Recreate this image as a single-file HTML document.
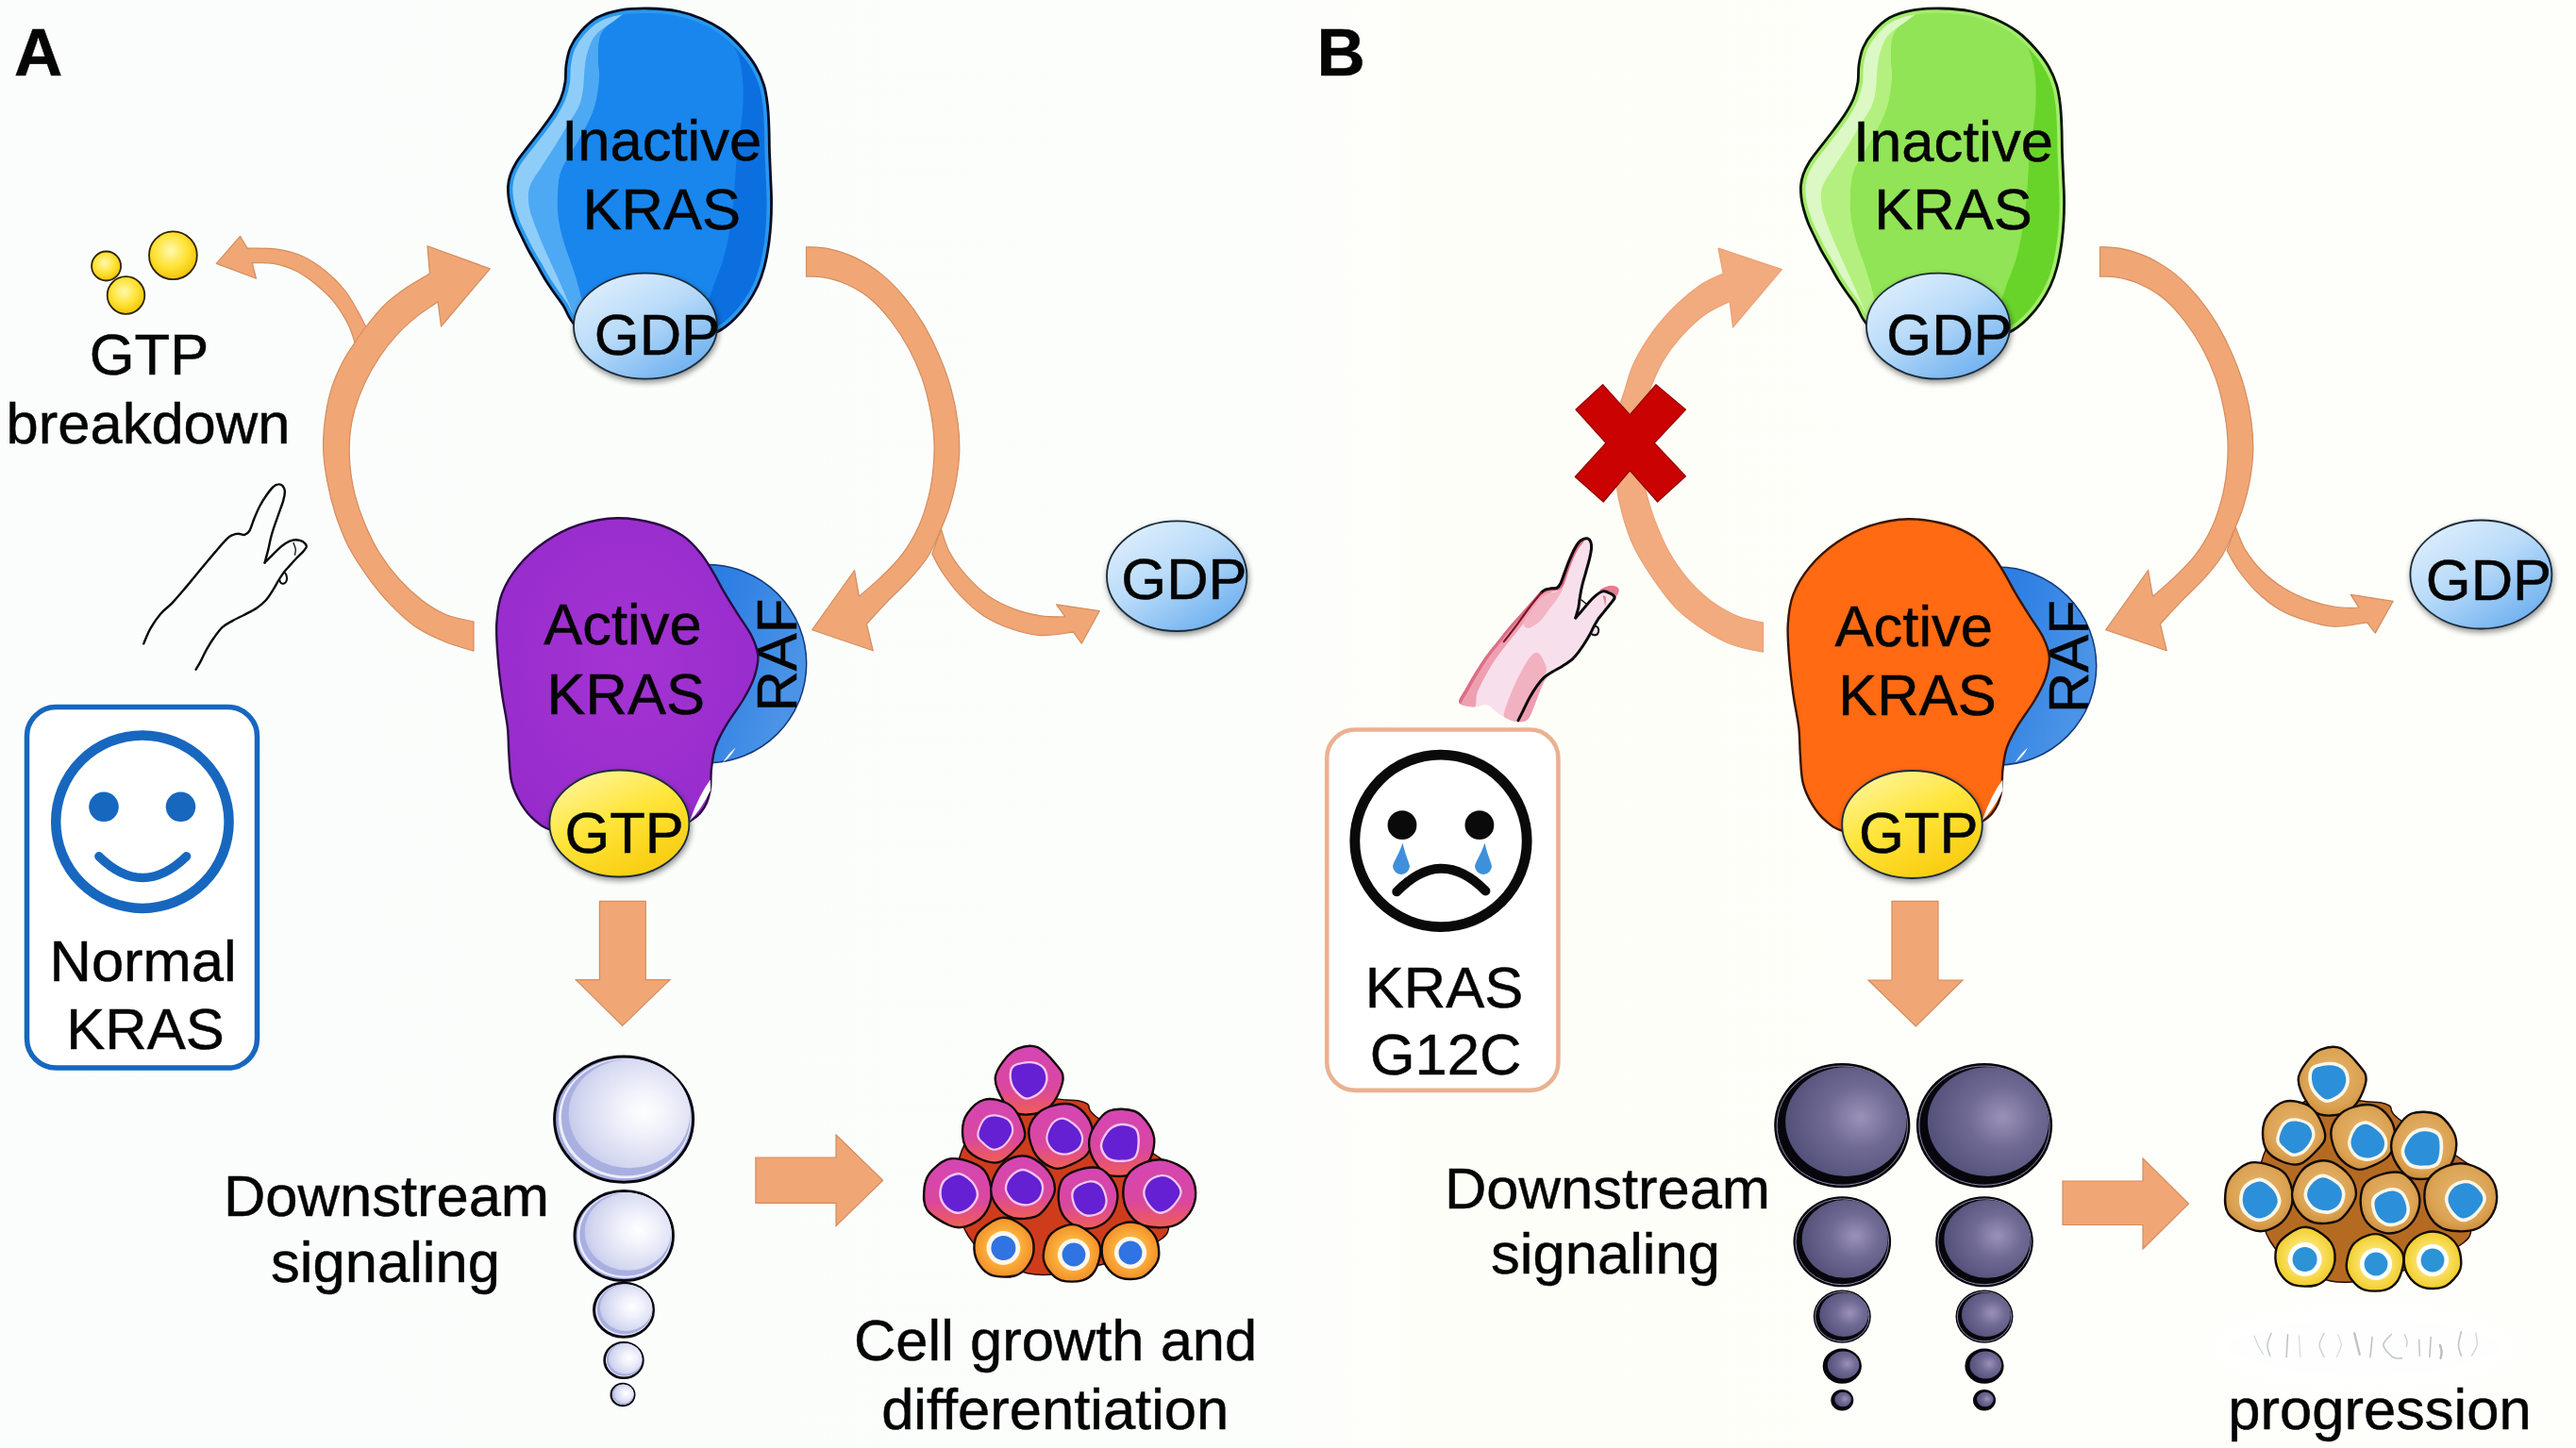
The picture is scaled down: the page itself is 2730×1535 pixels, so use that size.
<!DOCTYPE html>
<html lang="en"><head><meta charset="utf-8"><title>KRAS signaling: normal vs G12C</title>
<style>html,body{margin:0;padding:0;background:#fdfefb;}body{width:2730px;height:1535px;overflow:hidden;font-family:"Liberation Sans",Arial,sans-serif;}svg{display:block;}</style>
</head><body>
<svg width="2730" height="1535" viewBox="0 0 2730 1535" font-family="'Liberation Sans', Arial, sans-serif" fill="#050505">
<defs>
<linearGradient id="bg" x1="0" x2="1" y1="0" y2="0"><stop offset="0" stop-color="#fbfdfc"/><stop offset="0.48" stop-color="#fcfefc"/><stop offset="0.55" stop-color="#fefef9"/><stop offset="1" stop-color="#fefefa"/></linearGradient>
<radialGradient id="gYellow" cx="0.45" cy="0.4" r="0.62"><stop offset="0" stop-color="#fff8b0"/><stop offset="0.55" stop-color="#ffe338"/><stop offset="1" stop-color="#f2c200"/></radialGradient>
<linearGradient id="gGTP" x1="0.2" x2="0.8" y1="0" y2="1"><stop offset="0" stop-color="#fff59a"/><stop offset="0.45" stop-color="#ffe53a"/><stop offset="1" stop-color="#f7c90a"/></linearGradient>
<linearGradient id="gGDP" x1="0.1" x2="0.9" y1="0" y2="1"><stop offset="0" stop-color="#e2f1fd"/><stop offset="0.45" stop-color="#b9dbf9"/><stop offset="1" stop-color="#62a9ee"/></linearGradient>
<radialGradient id="gPurple" cx="0.5" cy="0.45" r="0.6"><stop offset="0" stop-color="#a533d3"/><stop offset="1" stop-color="#962ccb"/></radialGradient>
<linearGradient id="gRAF" x1="0" x2="1" y1="0" y2="0.3"><stop offset="0" stop-color="#1f6fdc"/><stop offset="0.6" stop-color="#2f80e4"/><stop offset="1" stop-color="#4a93e6"/></linearGradient>
<radialGradient id="gSphL" cx="0.62" cy="0.48" r="0.66"><stop offset="0" stop-color="#ffffff"/><stop offset="0.3" stop-color="#f1f2fb"/><stop offset="0.75" stop-color="#d6daf1"/><stop offset="1" stop-color="#c2c7e9"/></radialGradient>
<radialGradient id="gSphD" cx="0.62" cy="0.46" r="0.64"><stop offset="0" stop-color="#9b91b8"/><stop offset="0.45" stop-color="#6f6a93"/><stop offset="1" stop-color="#514f78"/></radialGradient>
<linearGradient id="gPink" x1="0" x2="0" y1="0" y2="1"><stop offset="0" stop-color="#d446b4"/><stop offset="0.62" stop-color="#da479f"/><stop offset="0.85" stop-color="#e8556f"/><stop offset="1" stop-color="#ef6058"/></linearGradient>
<radialGradient id="gOrangeC" cx="0.5" cy="0.5" r="0.5"><stop offset="0.55" stop-color="#fbb13c"/><stop offset="1" stop-color="#f38f2a"/></radialGradient>
<radialGradient id="gTan" cx="0.5" cy="0.45" r="0.6"><stop offset="0" stop-color="#e6b873"/><stop offset="0.7" stop-color="#dba252"/><stop offset="1" stop-color="#c98a35"/></radialGradient>
<radialGradient id="gYelC" cx="0.5" cy="0.5" r="0.5"><stop offset="0.5" stop-color="#fbe36a"/><stop offset="1" stop-color="#f1cd2c"/></radialGradient>
<filter id="sh" x="-20%" y="-20%" width="140%" height="150%"><feGaussianBlur in="SourceAlpha" stdDeviation="3"/><feOffset dx="1" dy="3"/><feComponentTransfer><feFuncA type="linear" slope="0.45"/></feComponentTransfer><feMerge><feMergeNode/><feMergeNode in="SourceGraphic"/></feMerge></filter>
<filter id="blur6"><feGaussianBlur stdDeviation="8"/></filter>
</defs>
<rect x="0" y="0" width="2730" height="1535" fill="url(#bg)"/>
<text x="15.0" y="80.3" font-size="71" text-anchor="start" font-weight="bold" stroke="#050505" stroke-width="0.5" >A</text>
<path d="M388.1,347.0 C386.7,344.3 383.2,337.0 379.5,330.5 C375.8,324.0 371.4,315.2 365.7,308.0 C359.9,300.8 352.5,293.4 345.0,287.3 C337.5,281.3 329.4,275.6 320.8,271.8 C312.2,267.9 303.0,265.6 293.2,264.2 C283.4,262.7 267.3,263.3 262.1,263.1 L254.5,250.4 L229.3,279.4 L271.5,295.3 L267.3,278.7 C271.1,278.8 282.0,277.9 289.7,279.4 C297.5,280.8 306.1,283.4 313.9,287.3 C321.7,291.2 329.4,297.1 336.3,302.8 C343.3,308.6 349.9,314.9 355.3,321.8 C360.8,328.7 365.6,337.1 369.1,344.3 C372.7,351.5 375.5,361.5 376.7,365.0Z" fill="#f1a676" stroke="#d38e5e" stroke-width="1.2" stroke-linejoin="round"/>
<path d="M502.0,690.1 C497.1,688.6 482.8,685.0 472.7,680.8 C462.6,676.7 451.4,671.9 441.6,665.3 C431.8,658.7 422.6,650.0 414.0,641.1 C405.4,632.2 397.3,622.1 389.9,611.8 C382.4,601.4 374.9,590.2 369.1,579.0 C363.4,567.8 359.1,556.0 355.3,544.5 C351.6,533.0 348.8,521.5 346.7,510.0 C344.6,498.4 342.8,486.9 342.6,475.4 C342.3,463.9 343.4,451.8 345.0,440.9 C346.5,430.0 348.7,419.6 351.9,409.9 C355.0,400.1 359.9,390.0 364.0,382.2 C368.0,374.5 372.0,369.3 376.0,363.3 C380.1,357.2 382.9,352.6 388.1,346.0 C393.3,339.4 399.9,330.5 407.1,323.6 C414.3,316.7 423.2,310.2 431.3,304.6 C439.3,299.0 451.4,292.5 455.4,290.1 L453.0,260.7 L519.3,284.9 L467.5,346.0 L464.1,320.1 C460.3,322.7 448.8,329.9 441.6,335.6 C434.4,341.4 427.5,347.4 420.9,354.6 C414.3,361.8 407.7,370.2 401.9,378.8 C396.2,387.4 390.7,397.2 386.4,406.4 C382.1,415.6 378.6,424.8 376.0,434.0 C373.5,443.2 371.7,451.8 370.9,461.6 C370.0,471.4 370.0,482.3 370.9,492.7 C371.7,503.1 373.5,513.4 376.0,523.8 C378.6,534.1 382.1,544.5 386.4,554.8 C390.7,565.2 395.9,576.1 401.9,585.9 C408.0,595.7 415.2,605.2 422.6,613.5 C430.1,621.9 438.5,629.6 446.8,635.9 C455.1,642.3 463.5,647.6 472.7,651.5 C481.9,655.3 497.1,657.8 502.0,659.1Z" fill="#f1a676" stroke="#d38e5e" stroke-width="1.2" stroke-linejoin="round"/>
<path d="M997.4,560.7 C998.9,564.8 1002.0,577.4 1006.4,585.5 C1010.8,593.7 1016.8,601.9 1023.7,609.7 C1030.6,617.5 1039.2,626.1 1047.8,632.1 C1056.5,638.2 1066.2,642.5 1075.4,645.9 C1084.6,649.4 1094.1,651.5 1103.1,652.9 C1112.0,654.2 1124.6,653.7 1128.9,653.9 L1119.6,640.8 L1165.2,647.7 L1146.2,682.2 L1137.6,670.1 C1131.8,670.7 1114.0,674.1 1103.1,673.6 C1092.1,673.0 1082.1,670.1 1072.0,666.7 C1061.9,663.2 1051.6,658.6 1042.6,652.9 C1033.7,647.1 1025.7,639.6 1018.5,632.1 C1011.3,624.7 1004.6,615.5 999.5,608.0 C994.4,600.5 989.7,590.7 987.8,587.3Z" fill="#f1a676" stroke="#d38e5e" stroke-width="1.2" stroke-linejoin="round"/>
<path d="M854.5,261.8 C858.5,262.1 870.1,261.9 878.7,263.8 C887.3,265.7 897.1,268.7 906.3,273.1 C915.5,277.6 925.3,283.5 933.9,290.4 C942.5,297.3 950.6,305.7 958.1,314.6 C965.6,323.5 972.5,333.3 978.8,343.9 C985.1,354.6 991.2,366.9 996.0,378.4 C1000.9,389.9 1005.0,401.4 1008.1,412.9 C1011.3,424.5 1013.6,436.5 1015.0,447.5 C1016.5,458.4 1017.0,468.2 1016.8,478.5 C1016.5,488.9 1015.0,499.8 1013.3,509.6 C1011.6,519.4 1009.2,528.5 1006.4,537.2 C1003.6,546.0 1000.5,553.4 996.7,562.1 C993.0,570.7 989.3,580.5 984.0,589.0 C978.7,597.5 972.2,605.1 965.0,613.2 C957.8,621.2 948.6,629.3 940.8,637.3 C933.0,645.4 922.1,657.5 918.4,661.5 L925.3,689.8 L860.7,667.7 L905.6,604.5 L910.4,632.1 C914.4,628.7 926.3,618.9 933.9,611.4 C941.6,604.0 949.7,596.2 956.3,587.3 C963.0,578.3 969.0,568.0 973.6,557.9 C978.2,547.9 981.4,537.2 984.0,526.9 C986.6,516.5 988.2,506.1 989.1,495.8 C990.1,485.4 990.4,475.1 989.8,464.7 C989.3,454.4 987.8,444.3 985.7,433.7 C983.6,423.0 980.8,411.5 977.1,400.9 C973.3,390.2 968.7,379.9 963.3,369.8 C957.8,359.7 951.2,349.4 944.3,340.5 C937.4,331.5 929.9,322.9 921.8,316.3 C913.8,309.7 904.3,304.5 895.9,300.8 C887.6,297.0 878.7,295.1 871.8,293.9 C864.9,292.6 857.4,293.3 854.5,293.2Z" fill="#f1a676" stroke="#d38e5e" stroke-width="1.2" stroke-linejoin="round"/>
<clipPath id="clipIn0"><path d="M688.0,9.0 C698.3,9.2 709.7,10.2 719.0,12.0 C728.3,13.8 735.8,16.4 744.0,20.0 C752.2,23.6 760.9,28.3 768.0,33.5 C775.1,38.7 781.0,44.8 786.5,51.0 C792.0,57.2 797.2,64.0 801.0,70.5 C804.8,77.0 807.4,83.1 809.5,90.0 C811.6,96.9 812.6,104.2 813.5,112.0 C814.4,119.8 814.7,128.7 815.0,137.0 C815.3,145.3 815.2,154.0 815.5,162.0 C815.8,170.0 816.2,177.0 816.5,185.0 C816.8,193.0 817.4,201.7 817.5,210.0 C817.6,218.3 817.5,226.7 817.0,235.0 C816.5,243.3 815.7,252.0 814.5,260.0 C813.3,268.0 811.9,275.8 810.0,283.0 C808.1,290.2 806.0,296.5 803.0,303.0 C800.0,309.5 796.0,316.2 792.0,322.0 C788.0,327.8 783.5,333.0 779.0,337.5 C774.5,342.0 770.7,345.6 765.0,349.0 C759.3,352.4 755.8,355.3 745.0,358.0 C734.2,360.7 717.5,364.7 700.0,365.0 C682.5,365.3 655.0,363.3 640.0,360.0 C625.0,356.7 617.2,351.0 610.0,345.0 C602.8,339.0 600.8,329.8 597.0,324.0 C593.2,318.2 590.2,314.6 587.0,310.0 C583.8,305.4 580.9,301.2 578.0,296.5 C575.1,291.8 572.3,286.4 569.5,281.5 C566.7,276.6 563.7,271.9 561.0,267.0 C558.3,262.1 555.9,257.0 553.5,252.0 C551.1,247.0 548.5,242.0 546.5,237.0 C544.5,232.0 542.8,226.6 541.5,222.0 C540.2,217.4 539.5,213.7 539.0,209.5 C538.5,205.3 538.2,201.1 538.5,197.0 C538.8,192.9 539.6,189.1 541.0,185.0 C542.4,180.9 544.5,176.7 547.0,172.5 C549.5,168.3 551.6,165.8 556.0,160.0 C560.4,154.2 568.5,144.2 573.5,137.5 C578.5,130.8 582.5,125.6 586.0,120.0 C589.5,114.4 592.3,109.5 594.5,104.0 C596.7,98.5 598.1,92.8 599.0,87.0 C599.9,81.2 599.1,75.1 600.0,69.0 C600.9,62.9 601.9,56.4 604.5,50.5 C607.1,44.6 610.8,38.8 615.5,33.5 C620.2,28.2 625.6,22.6 632.5,18.8 C639.4,15.0 647.8,12.4 657.0,10.8 C666.2,9.2 677.7,8.8 688.0,9.0Z"/></clipPath>
<g clip-path="url(#clipIn0)">
<path d="M688.0,9.0 C698.3,9.2 709.7,10.2 719.0,12.0 C728.3,13.8 735.8,16.4 744.0,20.0 C752.2,23.6 760.9,28.3 768.0,33.5 C775.1,38.7 781.0,44.8 786.5,51.0 C792.0,57.2 797.2,64.0 801.0,70.5 C804.8,77.0 807.4,83.1 809.5,90.0 C811.6,96.9 812.6,104.2 813.5,112.0 C814.4,119.8 814.7,128.7 815.0,137.0 C815.3,145.3 815.2,154.0 815.5,162.0 C815.8,170.0 816.2,177.0 816.5,185.0 C816.8,193.0 817.4,201.7 817.5,210.0 C817.6,218.3 817.5,226.7 817.0,235.0 C816.5,243.3 815.7,252.0 814.5,260.0 C813.3,268.0 811.9,275.8 810.0,283.0 C808.1,290.2 806.0,296.5 803.0,303.0 C800.0,309.5 796.0,316.2 792.0,322.0 C788.0,327.8 783.5,333.0 779.0,337.5 C774.5,342.0 770.7,345.6 765.0,349.0 C759.3,352.4 755.8,355.3 745.0,358.0 C734.2,360.7 717.5,364.7 700.0,365.0 C682.5,365.3 655.0,363.3 640.0,360.0 C625.0,356.7 617.2,351.0 610.0,345.0 C602.8,339.0 600.8,329.8 597.0,324.0 C593.2,318.2 590.2,314.6 587.0,310.0 C583.8,305.4 580.9,301.2 578.0,296.5 C575.1,291.8 572.3,286.4 569.5,281.5 C566.7,276.6 563.7,271.9 561.0,267.0 C558.3,262.1 555.9,257.0 553.5,252.0 C551.1,247.0 548.5,242.0 546.5,237.0 C544.5,232.0 542.8,226.6 541.5,222.0 C540.2,217.4 539.5,213.7 539.0,209.5 C538.5,205.3 538.2,201.1 538.5,197.0 C538.8,192.9 539.6,189.1 541.0,185.0 C542.4,180.9 544.5,176.7 547.0,172.5 C549.5,168.3 551.6,165.8 556.0,160.0 C560.4,154.2 568.5,144.2 573.5,137.5 C578.5,130.8 582.5,125.6 586.0,120.0 C589.5,114.4 592.3,109.5 594.5,104.0 C596.7,98.5 598.1,92.8 599.0,87.0 C599.9,81.2 599.1,75.1 600.0,69.0 C600.9,62.9 601.9,56.4 604.5,50.5 C607.1,44.6 610.8,38.8 615.5,33.5 C620.2,28.2 625.6,22.6 632.5,18.8 C639.4,15.0 647.8,12.4 657.0,10.8 C666.2,9.2 677.7,8.8 688.0,9.0Z" fill="#1886ec"/>
<path d="M667.0,12.0 C664.6,13.1 657.6,14.4 652.5,18.6 C647.4,22.8 639.5,30.0 636.4,37.3 C633.3,44.6 634.1,55.0 633.9,62.2 C633.7,69.5 635.4,73.5 635.1,80.8 C634.8,88.0 633.4,98.5 631.9,105.7 C630.3,113.0 629.0,117.0 625.8,124.3 C622.7,131.5 616.9,142.1 612.9,149.2 C609.0,156.3 605.2,161.1 602.0,167.0 C598.7,172.9 595.2,177.8 593.4,184.9 C591.5,192.0 591.1,201.4 590.9,209.7 C590.7,218.0 591.0,226.3 592.2,234.6 C593.5,242.9 595.9,251.2 598.4,259.5 C600.9,267.8 604.4,276.0 607.1,284.3 C609.8,292.6 612.4,300.9 614.5,309.2 C616.6,317.5 617.8,325.5 619.5,334.0 C621.2,342.5 624.1,355.7 625.0,360.0 L480.0,380.0 L480.0,0.0 Z" fill="#4da9f3"/>
<path d="M663.0,13.0 C661.2,14.3 657.6,17.1 652.3,21.1 C647.0,25.2 636.2,31.5 631.2,37.3 C626.2,43.1 624.5,49.7 622.5,55.9 C620.5,62.1 620.1,68.4 619.4,74.6 C618.7,80.8 619.0,87.0 618.1,93.2 C617.2,99.4 616.4,105.7 613.8,111.9 C611.2,118.1 607.0,123.2 602.6,130.5 C598.2,137.8 592.5,147.7 587.7,155.4 C582.9,163.1 578.4,169.5 574.0,176.5 C569.6,183.5 563.9,190.7 561.6,197.3 C559.3,203.9 559.7,209.8 560.3,216.0 C560.9,222.2 562.8,227.3 565.3,234.6 C567.8,241.8 571.7,251.2 575.2,259.5 C578.7,267.8 582.7,276.0 586.4,284.3 C590.1,292.6 594.1,300.9 597.6,309.2 C601.1,317.5 604.9,325.5 607.6,334.0 C610.3,342.5 612.9,355.7 614.0,360.0 L480.0,380.0 L480.0,0.0 Z" fill="#8fcdf9"/>
<path d="M760.0,25.0 C762.5,28.1 770.9,37.3 774.8,43.5 C778.7,49.7 781.4,55.0 783.5,62.2 C785.6,69.5 786.7,78.7 787.3,87.0 C787.9,95.3 787.7,103.6 787.3,111.9 C786.9,120.2 785.8,128.4 784.8,136.7 C783.8,145.0 782.0,151.5 781.0,161.6 C780.0,171.7 779.6,185.1 778.6,197.3 C777.6,209.5 776.7,222.2 774.8,234.6 C772.9,247.0 770.5,260.5 767.4,271.9 C764.3,283.3 759.1,294.7 756.2,303.0 C753.3,311.3 752.7,313.8 750.0,321.6 C747.3,329.4 741.7,345.3 740.0,350.0 L880.0,380.0 L880.0,0.0 Z" fill="#0c6fe0"/>
<path d="M688.0,9.0 C698.3,9.2 709.7,10.2 719.0,12.0 C728.3,13.8 735.8,16.4 744.0,20.0 C752.2,23.6 760.9,28.3 768.0,33.5 C775.1,38.7 781.0,44.8 786.5,51.0 C792.0,57.2 797.2,64.0 801.0,70.5 C804.8,77.0 807.4,83.1 809.5,90.0 C811.6,96.9 812.6,104.2 813.5,112.0 C814.4,119.8 814.7,128.7 815.0,137.0 C815.3,145.3 815.2,154.0 815.5,162.0 C815.8,170.0 816.2,177.0 816.5,185.0 C816.8,193.0 817.4,201.7 817.5,210.0 C817.6,218.3 817.5,226.7 817.0,235.0 C816.5,243.3 815.7,252.0 814.5,260.0 C813.3,268.0 811.9,275.8 810.0,283.0 C808.1,290.2 806.0,296.5 803.0,303.0 C800.0,309.5 796.0,316.2 792.0,322.0 C788.0,327.8 783.5,333.0 779.0,337.5 C774.5,342.0 770.7,345.6 765.0,349.0 C759.3,352.4 755.8,355.3 745.0,358.0 C734.2,360.7 717.5,364.7 700.0,365.0 C682.5,365.3 655.0,363.3 640.0,360.0 C625.0,356.7 617.2,351.0 610.0,345.0 C602.8,339.0 600.8,329.8 597.0,324.0 C593.2,318.2 590.2,314.6 587.0,310.0 C583.8,305.4 580.9,301.2 578.0,296.5 C575.1,291.8 572.3,286.4 569.5,281.5 C566.7,276.6 563.7,271.9 561.0,267.0 C558.3,262.1 555.9,257.0 553.5,252.0 C551.1,247.0 548.5,242.0 546.5,237.0 C544.5,232.0 542.8,226.6 541.5,222.0 C540.2,217.4 539.5,213.7 539.0,209.5 C538.5,205.3 538.2,201.1 538.5,197.0 C538.8,192.9 539.6,189.1 541.0,185.0 C542.4,180.9 544.5,176.7 547.0,172.5 C549.5,168.3 551.6,165.8 556.0,160.0 C560.4,154.2 568.5,144.2 573.5,137.5 C578.5,130.8 582.5,125.6 586.0,120.0 C589.5,114.4 592.3,109.5 594.5,104.0 C596.7,98.5 598.1,92.8 599.0,87.0 C599.9,81.2 599.1,75.1 600.0,69.0 C600.9,62.9 601.9,56.4 604.5,50.5 C607.1,44.6 610.8,38.8 615.5,33.5 C620.2,28.2 625.6,22.6 632.5,18.8 C639.4,15.0 647.8,12.4 657.0,10.8 C666.2,9.2 677.7,8.8 688.0,9.0Z" fill="none" stroke="#2a98ee" stroke-width="10"/>
</g>
<path d="M688.0,9.0 C698.3,9.2 709.7,10.2 719.0,12.0 C728.3,13.8 735.8,16.4 744.0,20.0 C752.2,23.6 760.9,28.3 768.0,33.5 C775.1,38.7 781.0,44.8 786.5,51.0 C792.0,57.2 797.2,64.0 801.0,70.5 C804.8,77.0 807.4,83.1 809.5,90.0 C811.6,96.9 812.6,104.2 813.5,112.0 C814.4,119.8 814.7,128.7 815.0,137.0 C815.3,145.3 815.2,154.0 815.5,162.0 C815.8,170.0 816.2,177.0 816.5,185.0 C816.8,193.0 817.4,201.7 817.5,210.0 C817.6,218.3 817.5,226.7 817.0,235.0 C816.5,243.3 815.7,252.0 814.5,260.0 C813.3,268.0 811.9,275.8 810.0,283.0 C808.1,290.2 806.0,296.5 803.0,303.0 C800.0,309.5 796.0,316.2 792.0,322.0 C788.0,327.8 783.5,333.0 779.0,337.5 C774.5,342.0 770.7,345.6 765.0,349.0 C759.3,352.4 755.8,355.3 745.0,358.0 C734.2,360.7 717.5,364.7 700.0,365.0 C682.5,365.3 655.0,363.3 640.0,360.0 C625.0,356.7 617.2,351.0 610.0,345.0 C602.8,339.0 600.8,329.8 597.0,324.0 C593.2,318.2 590.2,314.6 587.0,310.0 C583.8,305.4 580.9,301.2 578.0,296.5 C575.1,291.8 572.3,286.4 569.5,281.5 C566.7,276.6 563.7,271.9 561.0,267.0 C558.3,262.1 555.9,257.0 553.5,252.0 C551.1,247.0 548.5,242.0 546.5,237.0 C544.5,232.0 542.8,226.6 541.5,222.0 C540.2,217.4 539.5,213.7 539.0,209.5 C538.5,205.3 538.2,201.1 538.5,197.0 C538.8,192.9 539.6,189.1 541.0,185.0 C542.4,180.9 544.5,176.7 547.0,172.5 C549.5,168.3 551.6,165.8 556.0,160.0 C560.4,154.2 568.5,144.2 573.5,137.5 C578.5,130.8 582.5,125.6 586.0,120.0 C589.5,114.4 592.3,109.5 594.5,104.0 C596.7,98.5 598.1,92.8 599.0,87.0 C599.9,81.2 599.1,75.1 600.0,69.0 C600.9,62.9 601.9,56.4 604.5,50.5 C607.1,44.6 610.8,38.8 615.5,33.5 C620.2,28.2 625.6,22.6 632.5,18.8 C639.4,15.0 647.8,12.4 657.0,10.8 C666.2,9.2 677.7,8.8 688.0,9.0Z" fill="none" stroke="#030d22" stroke-width="2.8"/>
<ellipse cx="684.0" cy="345.7" rx="76.0" ry="56.0" fill="url(#gGDP)" stroke="#1c2a3a" stroke-width="1.8" filter="url(#sh)"/>
<text x="696.5" y="376.0" font-size="61.5" text-anchor="middle" font-weight="normal" stroke="#050505" stroke-width="0.5" >GDP</text>
<text x="701.2" y="169.7" font-size="61.5" text-anchor="middle" font-weight="normal" stroke="#050505" stroke-width="0.5" >Inactive</text>
<text x="701.2" y="242.7" font-size="61.5" text-anchor="middle" font-weight="normal" stroke="#050505" stroke-width="0.5" >KRAS</text>
<circle cx="112.6" cy="282.0" r="15.5" fill="url(#gYellow)" stroke="#2e2400" stroke-width="1.8"/>
<circle cx="183.4" cy="270.8" r="25.4" fill="url(#gYellow)" stroke="#2e2400" stroke-width="1.8"/>
<circle cx="133.5" cy="313.0" r="19.8" fill="url(#gYellow)" stroke="#2e2400" stroke-width="1.8"/>
<text x="158.0" y="397.0" font-size="61.5" text-anchor="middle" font-weight="normal" stroke="#050505" stroke-width="0.5" >GTP</text>
<text x="157.0" y="470.0" font-size="61.5" text-anchor="middle" font-weight="normal" stroke="#050505" stroke-width="0.5" >breakdown</text>
<path d="M152.2,682.4 C153.4,679.6 156.7,671.0 159.8,665.7 C162.8,660.3 166.6,654.9 170.4,650.5 C174.2,646.0 178.0,643.9 182.6,639.1 C187.1,634.2 192.7,627.5 197.8,621.6 C202.8,615.6 207.9,609.4 212.9,603.3 C218.0,597.3 223.6,590.4 228.1,585.1 C232.7,579.8 237.3,574.4 240.3,571.4 C243.3,568.4 244.4,568.1 246.4,567.2 C248.4,566.2 250.3,565.7 252.5,565.7 C254.6,565.6 257.3,567.4 259.3,566.9 C261.3,566.3 263.0,565.1 264.6,562.3 C266.3,559.5 267.4,554.5 269.2,550.2 C271.0,545.8 273.0,540.8 275.3,536.5 C277.5,532.2 280.5,527.7 282.9,524.3 C285.3,520.9 287.7,517.8 289.7,516.0 C291.7,514.1 293.4,513.5 295.0,513.4 C296.7,513.2 298.4,514.0 299.6,515.2 C300.7,516.4 301.7,518.0 301.9,520.5 C302.0,523.0 301.5,526.2 300.3,530.4 C299.2,534.6 296.8,540.5 295.0,545.6 C293.2,550.7 291.1,556.5 289.7,560.8 C288.3,565.1 287.5,567.9 286.7,571.4 C285.8,575.0 285.4,577.9 284.4,582.1 C283.4,586.2 281.2,594.1 280.6,596.5" fill="none" stroke="#0a0a0a" stroke-width="2.4" stroke-linecap="round" stroke-linejoin="round"/>
<path d="M280.6,596.5 C281.5,595.6 283.5,593.6 285.9,591.2 C288.3,588.8 292.2,584.6 295.0,582.1 C297.8,579.5 300.1,577.6 302.6,576.0 C305.1,574.4 307.7,573.2 310.2,572.6 C312.7,572.1 315.7,572.4 317.8,572.9 C320.0,573.5 322.0,574.8 323.1,576.0 C324.3,577.1 325.0,578.3 324.7,579.8 C324.3,581.3 322.8,583.0 320.9,585.1 C319.0,587.3 315.8,590.0 313.3,592.7 C310.7,595.4 307.7,598.8 305.7,601.1 C303.6,603.3 302.9,604.0 301.1,606.4 C299.3,608.8 297.0,612.2 295.0,615.5 C293.0,618.8 291.2,622.6 288.9,626.1 C286.7,629.7 284.1,633.7 281.3,636.8 C278.6,639.8 276.0,641.8 272.2,644.4 C268.4,646.9 262.8,649.7 258.5,652.0 C254.2,654.3 250.2,655.9 246.4,658.1 C242.6,660.2 239.0,661.9 235.7,664.9 C232.5,667.9 229.4,672.4 226.6,676.3 C223.8,680.2 221.3,684.4 219.0,688.4 C216.7,692.5 214.8,697.1 212.9,700.6 C211.0,704.2 208.5,708.2 207.6,709.7" fill="none" stroke="#0a0a0a" stroke-width="2.4" stroke-linecap="round" stroke-linejoin="round"/>
<path d="M301.4,606.7 C301.8,607.2 303.1,608.3 303.5,609.7 C303.9,611.1 304.2,613.7 303.8,615.2 C303.4,616.7 302.2,618.1 301.1,618.5 C300.0,619.0 298.3,618.5 297.4,617.8 C296.6,617.1 296.4,614.9 296.2,614.3" fill="none" stroke="#0a0a0a" stroke-width="2.0" stroke-linecap="round" stroke-linejoin="round"/>
<path d="M311.0,575.5 C311.4,576.6 313.0,580.0 313.3,582.1 C313.5,584.2 312.6,587.1 312.5,588.1" fill="none" stroke="#0a0a0a" stroke-width="1.3" stroke-linecap="round" stroke-linejoin="round"/>
<rect x="28.5" y="749.5" width="244" height="382.6" rx="31" fill="#ffffff" stroke="#1767bf" stroke-width="5.5"/>
<circle cx="150.9" cy="871.2" r="91.7" fill="none" stroke="#1767bf" stroke-width="10.5"/>
<circle cx="110" cy="855.3" r="15.8" fill="#1767bf"/><circle cx="191.5" cy="855.3" r="15.8" fill="#1767bf"/>
<path d="M104.9,907.8 Q151,953 197.6,907.8" fill="none" stroke="#1767bf" stroke-width="9.5" stroke-linecap="round"/>
<text x="151.6" y="1039.8" font-size="61.5" text-anchor="middle" font-weight="normal" stroke="#050505" stroke-width="0.5" >Normal</text>
<text x="154.0" y="1112.0" font-size="61.5" text-anchor="middle" font-weight="normal" stroke="#050505" stroke-width="0.5" >KRAS</text>
<clipPath id="clipRAF749"><circle cx="749.7" cy="703.6" r="105.0"/></clipPath>
<circle cx="749.7" cy="703.6" r="105.0" fill="url(#gRAF)" stroke="#123a7a" stroke-width="1.5"/>
<g clip-path="url(#clipRAF749)">
<text transform="translate(843.5,694.5) rotate(-90)" font-size="60" text-anchor="middle" stroke="#050505" stroke-width="0.5">RAF</text></g>
<path d="M653.9,549.2 C667.5,548.9 682.9,551.8 694.5,555.0 C706.1,558.1 715.6,562.8 723.6,568.0 C731.5,573.2 736.8,579.6 742.1,586.0 C747.5,592.4 751.6,599.7 755.7,606.6 C759.9,613.5 762.8,619.8 767.1,627.2 C771.4,634.5 776.6,642.8 781.6,650.7 C786.5,658.5 793.0,666.7 796.6,674.2 C800.3,681.7 802.9,688.2 803.3,695.6 C803.7,703.1 801.6,711.1 799.0,718.8 C796.3,726.6 792.2,733.8 787.4,742.0 C782.5,750.3 774.8,759.9 770.0,768.2 C765.1,776.4 761.0,783.6 758.4,791.4 C755.7,799.1 755.0,806.8 754.0,814.6 C753.0,822.3 753.8,831.0 752.6,837.8 C751.4,844.5 750.1,849.9 746.8,855.2 C743.4,860.5 741.0,864.4 732.3,869.7 C723.6,875.0 712.9,884.2 694.5,887.1 C676.2,890.0 640.4,888.3 622.0,887.1 C603.7,885.9 593.5,882.7 584.3,879.8 C575.1,876.9 572.2,874.3 566.9,869.7 C561.6,865.1 556.5,859.0 552.4,852.3 C548.3,845.5 544.4,837.8 542.3,829.1 C540.1,820.4 540.1,809.7 539.4,800.1 C538.6,790.4 539.1,781.7 537.9,771.1 C536.7,760.4 533.8,748.3 532.1,736.2 C530.4,724.2 528.7,711.1 527.8,698.5 C526.8,686.0 525.6,672.4 526.3,660.8 C527.0,649.2 528.2,639.1 532.1,628.9 C536.0,618.8 541.8,609.1 549.5,599.9 C557.2,590.7 567.9,581.1 578.5,573.8 C589.2,566.6 600.8,560.5 613.3,556.4 C625.9,552.3 640.4,549.4 653.9,549.2Z" fill="url(#gPurple)" stroke="#2a0a45" stroke-width="2.4"/>
<path d="M752.8,826.5 Q741.2,841.9 730.7,870.7 Q743.5,857.5 753.2,837.4 Z" fill="#fcfefc"/>
<path d="M766.0,808.5 Q771.0,800 779.5,792.5 Q775.0,802 766.0,808.5 Z" fill="#fcfefc"/>
<text x="660.0" y="683.0" font-size="61.5" text-anchor="middle" font-weight="normal" stroke="#050505" stroke-width="0.5" >Active</text>
<text x="663.2" y="756.7" font-size="61.5" text-anchor="middle" font-weight="normal" stroke="#050505" stroke-width="0.5" >KRAS</text>
<ellipse cx="656.4" cy="873.0" rx="74.0" ry="56.5" fill="url(#gGTP)" stroke="#1c2a3a" stroke-width="1.8" filter="url(#sh)"/>
<text x="661.7" y="904.0" font-size="61.5" text-anchor="middle" font-weight="normal" stroke="#050505" stroke-width="0.5" >GTP</text>
<path d="M635.4,955.4 H684.3 V1038.6 H710.0 L659.6,1087.5 L610.3,1038.6 H635.4 Z" fill="#f1a676" stroke="#d38e5e" stroke-width="1.2"/>
<path d="M800.9,1227.0 H886.0 V1203.0 L935.7,1251.3 L886.0,1299.6 V1275.3 H800.9 Z" fill="#f1a676" stroke="#d38e5e" stroke-width="1.2"/>
<ellipse cx="661.1" cy="1186.6" rx="73.5" ry="66.6" fill="#a3a9dc" stroke="#08080f" stroke-width="3"/>
<ellipse cx="662.2" cy="1185.6" rx="70.2" ry="63.6" fill="#eceefa"/>
<ellipse cx="663.3" cy="1184.6" rx="68.4" ry="61.9" fill="#a9afe0"/>
<ellipse cx="667.0" cy="1180.6" rx="64.3" ry="57.6" fill="url(#gSphL)"/>
<ellipse cx="661.2" cy="1310.0" rx="52.2" ry="47.5" fill="#a3a9dc" stroke="#08080f" stroke-width="3"/>
<ellipse cx="662.0" cy="1309.3" rx="49.9" ry="45.4" fill="#eceefa"/>
<ellipse cx="662.8" cy="1308.6" rx="48.5" ry="44.2" fill="#a9afe0"/>
<ellipse cx="665.4" cy="1305.7" rx="45.7" ry="41.1" fill="url(#gSphL)"/>
<ellipse cx="661.0" cy="1388.8" rx="31.5" ry="28.5" fill="#a3a9dc" stroke="#08080f" stroke-width="3"/>
<ellipse cx="661.5" cy="1388.4" rx="30.1" ry="27.2" fill="#eceefa"/>
<ellipse cx="661.9" cy="1387.9" rx="29.3" ry="26.5" fill="#a9afe0"/>
<ellipse cx="663.5" cy="1386.2" rx="27.6" ry="24.7" fill="url(#gSphL)"/>
<ellipse cx="661.0" cy="1442.0" rx="20.2" ry="18.6" fill="#a3a9dc" stroke="#08080f" stroke-width="3"/>
<ellipse cx="661.3" cy="1441.7" rx="19.3" ry="17.8" fill="#eceefa"/>
<ellipse cx="661.6" cy="1441.4" rx="18.8" ry="17.3" fill="#a9afe0"/>
<ellipse cx="662.6" cy="1440.3" rx="17.7" ry="16.1" fill="url(#gSphL)"/>
<ellipse cx="660.0" cy="1478.5" rx="12.0" ry="11.3" fill="#a3a9dc" stroke="#08080f" stroke-width="3"/>
<ellipse cx="660.2" cy="1478.3" rx="11.5" ry="10.8" fill="#eceefa"/>
<ellipse cx="660.4" cy="1478.2" rx="11.2" ry="10.5" fill="#a9afe0"/>
<ellipse cx="661.0" cy="1477.5" rx="10.5" ry="9.8" fill="url(#gSphL)"/>
<text x="409.5" y="1289.0" font-size="61.5" text-anchor="middle" font-weight="normal" stroke="#050505" stroke-width="0.5" >Downstream</text>
<text x="408.5" y="1359.0" font-size="61.5" text-anchor="middle" font-weight="normal" stroke="#050505" stroke-width="0.5" >signaling</text>
<path d="M1062.0,1166.0 C1081.0,1155.3 1115.0,1165.3 1130.0,1166.0 C1145.0,1166.7 1146.7,1167.0 1152.0,1170.0 C1157.3,1173.0 1149.0,1174.3 1162.0,1184.0 C1175.0,1193.7 1216.0,1218.3 1230.0,1228.0 C1244.0,1237.7 1244.3,1231.7 1246.0,1242.0 C1247.7,1252.3 1242.7,1278.0 1240.0,1290.0 C1237.3,1302.0 1241.7,1305.7 1230.0,1314.0 C1218.3,1322.3 1193.3,1334.0 1170.0,1340.0 C1146.7,1346.0 1114.0,1355.0 1090.0,1350.0 C1066.0,1345.0 1038.3,1330.0 1026.0,1310.0 C1013.7,1290.0 1010.0,1254.0 1016.0,1230.0 C1022.0,1206.0 1043.0,1176.7 1062.0,1166.0Z" fill="#cf3c1c" stroke="#2a0d06" stroke-width="1.5"/>
<path d="M1126.6,1143.3 C1126.3,1149.9 1121.3,1161.9 1117.0,1167.9 C1112.8,1174.0 1107.5,1177.6 1101.0,1179.7 C1094.4,1181.8 1083.8,1182.3 1077.7,1180.4 C1071.5,1178.5 1068.0,1174.3 1064.1,1168.2 C1060.3,1162.1 1054.8,1150.9 1054.7,1143.6 C1054.6,1136.4 1059.6,1129.9 1063.6,1124.6 C1067.5,1119.3 1072.4,1114.0 1078.4,1111.6 C1084.4,1109.2 1092.7,1107.4 1099.5,1110.2 C1106.3,1113.0 1114.6,1122.7 1119.1,1128.2 C1123.6,1133.8 1127.0,1136.7 1126.6,1143.3Z" fill="url(#gPink)" stroke="#120a08" stroke-width="2.4" stroke-linejoin="round"/>
<path d="M1110.6,1144.4 C1110.1,1149.0 1107.4,1154.8 1103.7,1158.3 C1099.9,1161.9 1092.7,1165.9 1087.9,1165.8 C1083.2,1165.6 1078.5,1160.9 1075.5,1157.3 C1072.4,1153.6 1070.2,1148.5 1069.8,1143.9 C1069.4,1139.2 1069.3,1132.6 1073.1,1129.5 C1076.9,1126.3 1087.3,1124.7 1092.9,1124.9 C1098.4,1125.1 1103.5,1127.5 1106.5,1130.8 C1109.4,1134.0 1111.0,1139.8 1110.6,1144.4Z" fill="#f3c6ee"/>
<path d="M1108.2,1144.4 C1107.7,1148.4 1105.4,1153.4 1102.0,1156.6 C1098.7,1159.8 1092.3,1163.5 1088.2,1163.4 C1084.0,1163.2 1079.9,1158.9 1077.2,1155.6 C1074.6,1152.4 1072.6,1148.0 1072.2,1143.9 C1071.8,1139.8 1071.5,1133.8 1074.9,1131.0 C1078.3,1128.3 1087.6,1127.1 1092.5,1127.3 C1097.5,1127.5 1102.0,1129.4 1104.6,1132.3 C1107.2,1135.1 1108.6,1140.3 1108.2,1144.4Z" fill="#6420d2"/>
<path d="M1086.2,1202.1 C1086.4,1208.1 1083.6,1210.4 1079.3,1215.3 C1074.9,1220.2 1066.6,1229.3 1060.2,1231.7 C1053.9,1234.0 1046.9,1231.8 1040.9,1229.5 C1035.0,1227.2 1028.1,1223.2 1024.6,1218.0 C1021.2,1212.8 1019.9,1204.8 1020.0,1198.5 C1020.1,1192.2 1021.5,1185.6 1025.3,1180.2 C1029.1,1174.7 1036.2,1167.7 1042.8,1165.8 C1049.4,1163.8 1059.2,1166.2 1065.0,1168.5 C1070.9,1170.9 1074.4,1174.1 1077.9,1179.7 C1081.5,1185.3 1086.0,1196.2 1086.2,1202.1Z" fill="url(#gPink)" stroke="#120a08" stroke-width="2.4" stroke-linejoin="round"/>
<path d="M1074.1,1200.1 C1073.4,1204.8 1068.8,1211.5 1065.2,1214.8 C1061.6,1218.1 1056.5,1220.2 1052.4,1219.8 C1048.3,1219.3 1043.5,1215.0 1040.7,1212.1 C1037.8,1209.3 1035.1,1207.0 1035.3,1202.7 C1035.5,1198.3 1038.8,1189.6 1042.0,1186.0 C1045.1,1182.5 1049.3,1181.2 1054.0,1181.3 C1058.7,1181.5 1066.6,1183.9 1070.0,1187.0 C1073.3,1190.2 1074.9,1195.5 1074.1,1200.1Z" fill="#f3c6ee"/>
<path d="M1071.9,1200.1 C1071.2,1204.2 1067.1,1210.1 1063.9,1213.0 C1060.6,1216.0 1056.2,1218.0 1052.6,1217.6 C1049.0,1217.2 1044.8,1213.2 1042.3,1210.6 C1039.8,1208.1 1037.3,1206.2 1037.5,1202.4 C1037.7,1198.5 1040.6,1190.8 1043.4,1187.7 C1046.1,1184.6 1049.9,1183.4 1054.0,1183.6 C1058.2,1183.7 1065.3,1185.7 1068.3,1188.4 C1071.2,1191.2 1072.7,1196.0 1071.9,1200.1Z" fill="#6420d2"/>
<path d="M1158.1,1202.2 C1158.1,1208.8 1156.4,1217.9 1152.3,1223.4 C1148.1,1229.0 1139.3,1232.9 1133.3,1235.3 C1127.3,1237.8 1122.3,1240.0 1116.5,1238.2 C1110.6,1236.5 1102.5,1231.0 1098.1,1224.8 C1093.8,1218.5 1090.3,1207.7 1090.3,1200.6 C1090.2,1193.6 1093.9,1187.0 1098.0,1182.3 C1102.0,1177.6 1108.4,1174.3 1114.7,1172.4 C1121.0,1170.5 1129.5,1169.0 1135.8,1170.9 C1142.0,1172.8 1148.5,1178.5 1152.2,1183.7 C1155.9,1188.9 1158.1,1195.6 1158.1,1202.2Z" fill="url(#gPink)" stroke="#120a08" stroke-width="2.4" stroke-linejoin="round"/>
<path d="M1148.2,1206.3 C1148.5,1210.3 1147.1,1215.1 1144.0,1218.2 C1140.9,1221.3 1134.5,1224.2 1129.8,1224.6 C1125.1,1225.1 1119.3,1223.7 1115.7,1220.8 C1112.1,1217.8 1108.4,1212.2 1108.3,1207.1 C1108.1,1201.9 1111.6,1193.7 1114.8,1189.9 C1118.1,1186.2 1123.0,1184.0 1127.6,1184.7 C1132.3,1185.4 1139.0,1190.6 1142.5,1194.2 C1145.9,1197.8 1148.0,1202.3 1148.2,1206.3Z" fill="#f3c6ee"/>
<path d="M1146.0,1206.1 C1146.3,1209.7 1145.0,1214.1 1142.3,1216.8 C1139.6,1219.5 1133.8,1222.1 1129.6,1222.4 C1125.4,1222.8 1120.2,1221.6 1117.1,1219.0 C1113.9,1216.4 1110.6,1211.4 1110.5,1206.8 C1110.3,1202.3 1113.4,1194.9 1116.3,1191.6 C1119.1,1188.3 1123.6,1186.2 1127.7,1186.9 C1131.8,1187.5 1137.6,1192.4 1140.7,1195.6 C1143.8,1198.8 1145.7,1202.6 1146.0,1206.1Z" fill="#6420d2"/>
<path d="M1223.3,1210.2 C1223.1,1216.6 1220.7,1226.0 1217.3,1231.7 C1213.9,1237.4 1209.8,1242.2 1202.8,1244.5 C1195.7,1246.8 1182.0,1248.0 1174.8,1245.7 C1167.7,1243.4 1163.3,1236.5 1159.9,1230.9 C1156.4,1225.2 1154.1,1217.9 1154.1,1211.7 C1154.1,1205.5 1156.4,1199.4 1160.0,1193.7 C1163.5,1188.0 1168.5,1180.2 1175.6,1177.5 C1182.7,1174.9 1195.5,1175.4 1202.6,1178.0 C1209.7,1180.7 1214.7,1188.0 1218.2,1193.4 C1221.6,1198.7 1223.4,1203.8 1223.3,1210.2Z" fill="url(#gPink)" stroke="#120a08" stroke-width="2.4" stroke-linejoin="round"/>
<path d="M1207.9,1209.1 C1208.0,1214.4 1207.1,1223.3 1204.1,1227.1 C1201.2,1230.9 1195.3,1231.7 1190.2,1232.0 C1185.1,1232.3 1177.6,1232.0 1173.5,1229.0 C1169.5,1226.1 1165.7,1219.7 1165.8,1214.4 C1166.0,1209.0 1170.7,1201.0 1174.4,1197.0 C1178.1,1193.1 1183.3,1191.0 1188.2,1190.7 C1193.2,1190.4 1200.7,1192.1 1203.9,1195.2 C1207.2,1198.3 1207.9,1203.7 1207.9,1209.1Z" fill="#f3c6ee"/>
<path d="M1205.5,1209.4 C1205.5,1214.2 1204.9,1222.1 1202.3,1225.4 C1199.7,1228.8 1194.4,1229.3 1189.9,1229.6 C1185.4,1229.9 1178.7,1229.7 1175.1,1227.1 C1171.5,1224.6 1168.1,1218.8 1168.3,1214.1 C1168.4,1209.4 1172.8,1202.3 1176.1,1198.8 C1179.4,1195.4 1183.8,1193.5 1188.2,1193.2 C1192.6,1192.9 1199.4,1194.3 1202.2,1197.0 C1205.1,1199.7 1205.5,1204.7 1205.5,1209.4Z" fill="#6420d2"/>
<path d="M1050.8,1264.9 C1050.7,1272.7 1047.4,1281.9 1042.9,1287.8 C1038.4,1293.6 1030.0,1298.2 1023.8,1300.1 C1017.7,1301.9 1013.0,1301.9 1006.2,1299.0 C999.3,1296.1 987.2,1289.0 982.7,1282.7 C978.2,1276.4 978.9,1267.8 979.4,1261.2 C979.8,1254.7 981.5,1248.8 985.4,1243.5 C989.4,1238.2 997.1,1231.7 1003.1,1229.4 C1009.1,1227.1 1014.9,1227.9 1021.5,1229.7 C1028.2,1231.6 1038.3,1234.9 1043.2,1240.7 C1048.1,1246.6 1050.8,1257.1 1050.8,1264.9Z" fill="url(#gPink)" stroke="#120a08" stroke-width="2.4" stroke-linejoin="round"/>
<path d="M1037.2,1266.9 C1036.9,1271.8 1032.9,1277.7 1029.2,1281.1 C1025.4,1284.4 1019.4,1287.2 1014.8,1287.0 C1010.1,1286.8 1004.4,1283.3 1001.2,1279.9 C997.9,1276.6 995.6,1271.8 995.3,1267.0 C995.1,1262.2 996.1,1255.1 999.5,1251.1 C1002.9,1247.1 1010.6,1242.8 1015.8,1242.9 C1021.0,1243.1 1027.3,1247.9 1030.9,1251.9 C1034.4,1255.8 1037.5,1262.0 1037.2,1266.9Z" fill="#f3c6ee"/>
<path d="M1034.7,1266.8 C1034.5,1271.1 1030.8,1276.2 1027.5,1279.2 C1024.2,1282.1 1019.0,1284.7 1014.9,1284.5 C1010.8,1284.4 1005.8,1281.2 1003.0,1278.2 C1000.1,1275.3 998.1,1271.1 997.8,1266.8 C997.5,1262.6 998.3,1256.3 1001.3,1252.8 C1004.3,1249.2 1011.2,1245.3 1015.8,1245.4 C1020.5,1245.6 1025.9,1250.0 1029.1,1253.6 C1032.2,1257.1 1035.0,1262.5 1034.7,1266.8Z" fill="#6420d2"/>
<path d="M1117.9,1261.0 C1117.7,1267.0 1113.6,1273.1 1110.2,1277.9 C1106.8,1282.7 1103.5,1287.4 1097.5,1289.7 C1091.4,1291.9 1080.5,1292.9 1073.8,1291.2 C1067.0,1289.5 1061.1,1284.7 1057.2,1279.6 C1053.2,1274.4 1049.9,1267.4 1050.1,1260.5 C1050.3,1253.7 1054.5,1244.1 1058.4,1238.6 C1062.4,1233.0 1068.2,1229.0 1073.9,1227.0 C1079.5,1225.1 1086.1,1224.5 1092.3,1226.9 C1098.5,1229.3 1107.0,1236.0 1111.2,1241.6 C1115.5,1247.3 1118.1,1254.9 1117.9,1261.0Z" fill="url(#gPink)" stroke="#120a08" stroke-width="2.4" stroke-linejoin="round"/>
<path d="M1106.3,1258.6 C1106.4,1262.8 1104.6,1268.8 1101.7,1272.1 C1098.7,1275.5 1093.1,1278.2 1088.4,1278.6 C1083.7,1279.0 1077.3,1277.3 1073.4,1274.4 C1069.5,1271.5 1065.6,1265.7 1064.9,1261.2 C1064.2,1256.7 1066.3,1251.2 1069.4,1247.5 C1072.6,1243.8 1078.5,1238.9 1083.7,1238.8 C1088.9,1238.8 1096.9,1244.0 1100.7,1247.3 C1104.4,1250.6 1106.1,1254.5 1106.3,1258.6Z" fill="#f3c6ee"/>
<path d="M1103.9,1258.8 C1104.1,1262.4 1102.4,1267.8 1099.8,1270.7 C1097.2,1273.6 1092.2,1276.0 1088.1,1276.3 C1084.0,1276.6 1078.4,1275.1 1074.9,1272.6 C1071.5,1270.1 1067.8,1265.0 1067.2,1261.1 C1066.6,1257.1 1068.5,1252.2 1071.3,1248.9 C1074.1,1245.6 1079.3,1241.2 1083.9,1241.2 C1088.5,1241.1 1095.6,1245.9 1098.9,1248.8 C1102.2,1251.8 1103.8,1255.1 1103.9,1258.8Z" fill="#6420d2"/>
<path d="M1184.4,1268.9 C1184.1,1275.1 1181.3,1283.8 1177.6,1289.1 C1174.0,1294.3 1168.0,1298.4 1162.7,1300.5 C1157.4,1302.6 1151.4,1303.1 1145.7,1301.6 C1140.1,1300.1 1132.8,1296.1 1128.8,1291.3 C1124.8,1286.4 1122.4,1279.4 1121.9,1272.7 C1121.4,1265.9 1122.5,1256.1 1125.7,1250.8 C1128.9,1245.5 1134.6,1242.9 1141.0,1240.8 C1147.4,1238.7 1157.9,1236.4 1164.2,1238.2 C1170.6,1240.0 1175.9,1246.4 1179.3,1251.5 C1182.6,1256.6 1184.6,1262.6 1184.4,1268.9Z" fill="url(#gPink)" stroke="#120a08" stroke-width="2.4" stroke-linejoin="round"/>
<path d="M1173.7,1272.7 C1173.8,1277.5 1171.9,1282.4 1168.3,1285.3 C1164.8,1288.1 1157.1,1290.4 1152.4,1289.9 C1147.6,1289.3 1142.7,1285.6 1139.8,1281.8 C1136.9,1278.0 1135.2,1271.1 1135.2,1267.0 C1135.1,1263.0 1136.3,1260.0 1139.7,1257.4 C1143.1,1254.7 1151.1,1251.4 1155.7,1251.2 C1160.4,1251.0 1164.8,1252.7 1167.8,1256.3 C1170.8,1259.9 1173.6,1267.9 1173.7,1272.7Z" fill="#f3c6ee"/>
<path d="M1171.4,1272.4 C1171.5,1276.6 1169.9,1281.0 1166.8,1283.5 C1163.7,1286.0 1156.9,1288.1 1152.7,1287.5 C1148.5,1287.0 1144.2,1283.7 1141.6,1280.4 C1139.1,1277.0 1137.5,1271.0 1137.5,1267.4 C1137.5,1263.8 1138.5,1261.2 1141.5,1258.9 C1144.5,1256.5 1151.5,1253.7 1155.6,1253.5 C1159.8,1253.4 1163.6,1254.9 1166.2,1258.0 C1168.8,1261.1 1171.3,1268.1 1171.4,1272.4Z" fill="#6420d2"/>
<path d="M1267.1,1263.9 C1267.4,1271.1 1264.7,1280.1 1260.6,1286.1 C1256.4,1292.1 1250.1,1297.7 1242.2,1299.9 C1234.3,1302.1 1220.8,1301.6 1213.3,1299.5 C1205.7,1297.4 1200.9,1292.7 1197.1,1287.2 C1193.3,1281.6 1190.7,1273.3 1190.4,1266.4 C1190.1,1259.4 1191.4,1250.9 1195.3,1245.2 C1199.2,1239.5 1207.1,1234.7 1213.8,1232.1 C1220.6,1229.6 1228.4,1228.3 1236.0,1230.1 C1243.5,1231.8 1253.9,1236.9 1259.1,1242.5 C1264.3,1248.2 1266.9,1256.6 1267.1,1263.9Z" fill="url(#gPink)" stroke="#120a08" stroke-width="2.4" stroke-linejoin="round"/>
<path d="M1252.7,1264.2 C1252.2,1269.3 1246.4,1277.2 1242.4,1280.9 C1238.4,1284.7 1233.0,1287.3 1228.8,1286.9 C1224.6,1286.5 1220.0,1282.3 1217.0,1278.5 C1214.1,1274.7 1211.0,1268.7 1211.2,1264.0 C1211.3,1259.3 1214.3,1253.4 1217.9,1250.3 C1221.5,1247.1 1228.1,1244.9 1232.7,1245.0 C1237.2,1245.0 1241.7,1247.3 1245.0,1250.5 C1248.4,1253.7 1253.1,1259.1 1252.7,1264.2Z" fill="#f3c6ee"/>
<path d="M1250.3,1264.4 C1249.9,1268.9 1244.5,1275.7 1241.0,1279.1 C1237.4,1282.4 1232.8,1284.9 1229.1,1284.6 C1225.4,1284.2 1221.4,1280.4 1218.8,1277.0 C1216.2,1273.6 1213.4,1268.4 1213.5,1264.3 C1213.6,1260.1 1216.3,1254.9 1219.4,1252.1 C1222.6,1249.2 1228.5,1247.3 1232.5,1247.3 C1236.5,1247.3 1240.5,1249.4 1243.5,1252.3 C1246.4,1255.1 1250.8,1259.9 1250.3,1264.4Z" fill="#6420d2"/>
<path d="M1095.5,1325.6 C1095.1,1331.6 1091.9,1338.4 1088.5,1342.9 C1085.2,1347.4 1081.3,1351.0 1075.2,1352.5 C1069.1,1354.1 1058.0,1354.1 1051.8,1352.2 C1045.7,1350.3 1041.4,1346.0 1038.2,1341.2 C1034.9,1336.4 1032.6,1329.3 1032.4,1323.6 C1032.2,1317.8 1032.9,1311.7 1037.0,1306.5 C1041.1,1301.3 1051.2,1294.5 1057.0,1292.2 C1062.8,1289.8 1066.3,1290.0 1072.0,1292.4 C1077.7,1294.8 1087.1,1301.1 1091.0,1306.6 C1094.9,1312.1 1095.9,1319.5 1095.5,1325.6Z" fill="url(#gOrangeC)" stroke="#120a08" stroke-width="2.4" stroke-linejoin="round"/>
<circle cx="1063.4" cy="1323.0" r="17.9" fill="#fff6ea"/>
<circle cx="1063.4" cy="1323.0" r="13.0" fill="#2f74e2"/>
<path d="M1166.3,1327.0 C1166.0,1332.6 1163.3,1342.5 1160.1,1347.5 C1156.9,1352.6 1152.9,1355.7 1147.0,1357.3 C1141.1,1359.0 1130.8,1359.0 1124.8,1357.3 C1118.9,1355.5 1114.6,1351.1 1111.4,1346.8 C1108.2,1342.6 1105.7,1338.0 1105.7,1332.0 C1105.8,1326.0 1108.0,1316.1 1111.7,1310.7 C1115.5,1305.3 1123.0,1301.4 1128.3,1299.6 C1133.7,1297.7 1138.2,1297.3 1143.8,1299.6 C1149.5,1302.0 1158.5,1309.1 1162.2,1313.7 C1166.0,1318.2 1166.7,1321.3 1166.3,1327.0Z" fill="url(#gOrangeC)" stroke="#120a08" stroke-width="2.4" stroke-linejoin="round"/>
<circle cx="1138.0" cy="1330.0" r="17.1" fill="#fff6ea"/>
<circle cx="1138.0" cy="1330.0" r="12.4" fill="#2f74e2"/>
<path d="M1228.3,1328.8 C1228.3,1334.0 1227.4,1337.2 1224.2,1341.4 C1221.0,1345.7 1215.3,1352.1 1209.2,1354.3 C1203.1,1356.5 1193.9,1356.7 1187.7,1354.6 C1181.5,1352.6 1175.4,1347.1 1172.1,1341.9 C1168.8,1336.7 1167.4,1328.9 1167.7,1323.2 C1168.0,1317.5 1170.1,1312.0 1173.8,1307.6 C1177.4,1303.2 1183.9,1298.4 1189.7,1296.8 C1195.5,1295.1 1202.9,1295.3 1208.6,1297.5 C1214.3,1299.7 1220.6,1304.8 1223.9,1310.1 C1227.2,1315.3 1228.2,1323.6 1228.3,1328.8Z" fill="url(#gOrangeC)" stroke="#120a08" stroke-width="2.4" stroke-linejoin="round"/>
<circle cx="1198.0" cy="1328.0" r="17.1" fill="#fff6ea"/>
<circle cx="1198.0" cy="1328.0" r="12.4" fill="#2f74e2"/>
<text x="1118.6" y="1442.0" font-size="61.5" text-anchor="middle" font-weight="normal" stroke="#050505" stroke-width="0.5" >Cell growth and</text>
<text x="1118.2" y="1514.6" font-size="61.5" text-anchor="middle" font-weight="normal" stroke="#050505" stroke-width="0.5" >differentiation</text>
<text x="1395.5" y="80.2" font-size="71" text-anchor="start" font-weight="bold" stroke="#050505" stroke-width="0.5" >B</text>
<path d="M1868.6,691.2 C1863.6,690.0 1848.5,688.0 1838.2,684.3 C1828.0,680.5 1817.5,675.4 1807.2,668.7 C1796.8,662.1 1785.3,653.8 1776.1,644.6 C1766.9,635.4 1759.4,624.4 1751.9,613.5 C1744.5,602.6 1736.7,590.5 1731.2,579.0 C1725.8,567.5 1722.3,556.0 1719.2,544.5 C1716.0,533.0 1713.8,521.5 1712.3,510.0 C1710.7,498.4 1709.7,486.9 1709.8,475.4 C1710.0,463.9 1711.4,450.7 1713.3,440.9 C1715.1,431.1 1717.9,426.0 1720.9,416.8 C1723.9,407.6 1726.1,396.6 1731.2,385.7 C1736.4,374.8 1744.5,361.5 1751.9,351.2 C1759.4,340.8 1767.5,331.9 1776.1,323.6 C1784.7,315.2 1795.4,306.7 1803.7,301.1 C1812.1,295.5 1822.4,291.9 1826.2,290.1 L1821.0,263.1 L1888.3,285.6 L1836.5,347.0 L1833.1,319.4 C1828.8,321.7 1815.5,327.2 1807.2,333.2 C1798.8,339.2 1790.5,347.0 1783.0,355.3 C1775.5,363.6 1768.1,373.3 1762.3,382.9 C1756.6,392.6 1752.2,403.6 1748.5,413.3 C1744.8,423.0 1741.8,431.7 1739.9,440.9 C1738.0,450.1 1737.3,459.3 1737.1,468.5 C1736.9,477.7 1737.5,486.9 1738.8,496.1 C1740.2,505.4 1742.6,514.6 1745.0,523.8 C1747.5,533.0 1749.6,541.0 1753.7,551.4 C1757.7,561.7 1763.2,575.3 1769.2,585.9 C1775.2,596.5 1782.4,606.6 1789.9,615.2 C1797.4,623.9 1805.5,631.3 1814.1,637.7 C1822.7,644.0 1832.6,649.5 1841.7,653.2 C1850.8,656.9 1864.1,659.0 1868.6,660.1Z" fill="#f2ab7e" stroke="#eaa276" stroke-width="1.2" stroke-linejoin="round"/>
<path d="M2369.1,558.6 C2370.8,562.5 2374.6,574.4 2379.1,582.1 C2383.7,589.7 2389.5,597.6 2396.4,604.5 C2403.3,611.4 2411.9,618.2 2420.5,623.5 C2429.2,628.9 2439.0,633.3 2448.2,636.6 C2457.4,640.0 2467.1,642.3 2475.8,643.5 C2484.4,644.8 2495.9,644.1 2499.9,644.2 L2491.3,630.4 L2536.2,637.3 L2517.2,671.1 L2508.6,659.8 C2502.8,660.5 2484.7,664.5 2474.1,664.2 C2463.4,664.0 2454.5,661.1 2444.7,658.0 C2434.9,655.0 2424.3,651.1 2415.4,645.9 C2406.5,640.8 2398.4,633.9 2391.2,627.0 C2384.0,620.1 2377.4,611.7 2372.2,604.5 C2367.0,597.3 2362.2,587.3 2360.1,583.8Z" fill="#f1a676" stroke="#d38e5e" stroke-width="1.2" stroke-linejoin="round"/>
<path d="M2225.5,261.8 C2229.5,262.1 2241.1,261.9 2249.7,263.8 C2258.3,265.7 2268.1,268.7 2277.3,273.1 C2286.5,277.6 2296.3,283.5 2304.9,290.4 C2313.5,297.3 2321.6,305.7 2329.1,314.6 C2336.6,323.5 2343.5,333.3 2349.8,343.9 C2356.1,354.6 2362.2,366.9 2367.0,378.4 C2371.9,389.9 2376.0,401.4 2379.1,412.9 C2382.3,424.5 2384.6,436.5 2386.0,447.5 C2387.5,458.4 2388.0,468.2 2387.8,478.5 C2387.5,488.9 2386.0,499.8 2384.3,509.6 C2382.6,519.4 2380.2,528.5 2377.4,537.2 C2374.6,546.0 2371.5,553.4 2367.7,562.1 C2364.0,570.7 2360.3,580.5 2355.0,589.0 C2349.7,597.5 2343.2,605.1 2336.0,613.2 C2328.8,621.2 2319.6,629.3 2311.8,637.3 C2304.0,645.4 2293.1,657.5 2289.4,661.5 L2296.3,689.8 L2231.7,667.7 L2276.6,604.5 L2281.4,632.1 C2285.4,628.7 2297.3,618.9 2304.9,611.4 C2312.6,604.0 2320.7,596.2 2327.3,587.3 C2334.0,578.3 2340.0,568.0 2344.6,557.9 C2349.2,547.9 2352.4,537.2 2355.0,526.9 C2357.6,516.5 2359.2,506.1 2360.1,495.8 C2361.1,485.4 2361.4,475.1 2360.8,464.7 C2360.3,454.4 2358.8,444.3 2356.7,433.7 C2354.6,423.0 2351.8,411.5 2348.1,400.9 C2344.3,390.2 2339.7,379.9 2334.3,369.8 C2328.8,359.7 2322.2,349.4 2315.3,340.5 C2308.4,331.5 2300.9,322.9 2292.8,316.3 C2284.8,309.7 2275.3,304.5 2266.9,300.8 C2258.6,297.0 2249.7,295.1 2242.8,293.9 C2235.9,292.6 2228.4,293.3 2225.5,293.2Z" fill="#f1a676" stroke="#d38e5e" stroke-width="1.2" stroke-linejoin="round"/>
<polygon points="1669.9,434.2 1698.6,407.7 1727.3,439.7 1755.0,407.7 1786.5,434.2 1753.3,469.6 1786.5,504.9 1756.6,532.0 1727.3,498.8 1699.2,532.0 1669.3,505.5 1701.9,469.6" fill="#cb0202" stroke="#8e0505" stroke-width="1.2" stroke-linejoin="round"/>
<clipPath id="clipIn1370"><path d="M2058.0,9.0 C2068.3,9.2 2079.7,10.2 2089.0,12.0 C2098.3,13.8 2105.8,16.4 2114.0,20.0 C2122.2,23.6 2130.9,28.3 2138.0,33.5 C2145.1,38.7 2151.0,44.8 2156.5,51.0 C2162.0,57.2 2167.2,64.0 2171.0,70.5 C2174.8,77.0 2177.4,83.1 2179.5,90.0 C2181.6,96.9 2182.6,104.2 2183.5,112.0 C2184.4,119.8 2184.7,128.7 2185.0,137.0 C2185.3,145.3 2185.2,154.0 2185.5,162.0 C2185.8,170.0 2186.2,177.0 2186.5,185.0 C2186.8,193.0 2187.4,201.7 2187.5,210.0 C2187.6,218.3 2187.5,226.7 2187.0,235.0 C2186.5,243.3 2185.7,252.0 2184.5,260.0 C2183.3,268.0 2181.9,275.8 2180.0,283.0 C2178.1,290.2 2176.0,296.5 2173.0,303.0 C2170.0,309.5 2166.0,316.2 2162.0,322.0 C2158.0,327.8 2153.5,333.0 2149.0,337.5 C2144.5,342.0 2140.7,345.6 2135.0,349.0 C2129.3,352.4 2125.8,355.3 2115.0,358.0 C2104.2,360.7 2087.5,364.7 2070.0,365.0 C2052.5,365.3 2025.0,363.3 2010.0,360.0 C1995.0,356.7 1987.2,351.0 1980.0,345.0 C1972.8,339.0 1970.8,329.8 1967.0,324.0 C1963.2,318.2 1960.2,314.6 1957.0,310.0 C1953.8,305.4 1950.9,301.2 1948.0,296.5 C1945.1,291.8 1942.3,286.4 1939.5,281.5 C1936.7,276.6 1933.7,271.9 1931.0,267.0 C1928.3,262.1 1925.9,257.0 1923.5,252.0 C1921.1,247.0 1918.5,242.0 1916.5,237.0 C1914.5,232.0 1912.8,226.6 1911.5,222.0 C1910.2,217.4 1909.5,213.7 1909.0,209.5 C1908.5,205.3 1908.2,201.1 1908.5,197.0 C1908.8,192.9 1909.6,189.1 1911.0,185.0 C1912.4,180.9 1914.5,176.7 1917.0,172.5 C1919.5,168.3 1921.6,165.8 1926.0,160.0 C1930.4,154.2 1938.5,144.2 1943.5,137.5 C1948.5,130.8 1952.5,125.6 1956.0,120.0 C1959.5,114.4 1962.3,109.5 1964.5,104.0 C1966.7,98.5 1968.1,92.8 1969.0,87.0 C1969.9,81.2 1969.1,75.1 1970.0,69.0 C1970.9,62.9 1971.9,56.4 1974.5,50.5 C1977.1,44.6 1980.8,38.8 1985.5,33.5 C1990.2,28.2 1995.6,22.6 2002.5,18.8 C2009.4,15.0 2017.8,12.4 2027.0,10.8 C2036.2,9.2 2047.7,8.8 2058.0,9.0Z"/></clipPath>
<g clip-path="url(#clipIn1370)">
<path d="M2058.0,9.0 C2068.3,9.2 2079.7,10.2 2089.0,12.0 C2098.3,13.8 2105.8,16.4 2114.0,20.0 C2122.2,23.6 2130.9,28.3 2138.0,33.5 C2145.1,38.7 2151.0,44.8 2156.5,51.0 C2162.0,57.2 2167.2,64.0 2171.0,70.5 C2174.8,77.0 2177.4,83.1 2179.5,90.0 C2181.6,96.9 2182.6,104.2 2183.5,112.0 C2184.4,119.8 2184.7,128.7 2185.0,137.0 C2185.3,145.3 2185.2,154.0 2185.5,162.0 C2185.8,170.0 2186.2,177.0 2186.5,185.0 C2186.8,193.0 2187.4,201.7 2187.5,210.0 C2187.6,218.3 2187.5,226.7 2187.0,235.0 C2186.5,243.3 2185.7,252.0 2184.5,260.0 C2183.3,268.0 2181.9,275.8 2180.0,283.0 C2178.1,290.2 2176.0,296.5 2173.0,303.0 C2170.0,309.5 2166.0,316.2 2162.0,322.0 C2158.0,327.8 2153.5,333.0 2149.0,337.5 C2144.5,342.0 2140.7,345.6 2135.0,349.0 C2129.3,352.4 2125.8,355.3 2115.0,358.0 C2104.2,360.7 2087.5,364.7 2070.0,365.0 C2052.5,365.3 2025.0,363.3 2010.0,360.0 C1995.0,356.7 1987.2,351.0 1980.0,345.0 C1972.8,339.0 1970.8,329.8 1967.0,324.0 C1963.2,318.2 1960.2,314.6 1957.0,310.0 C1953.8,305.4 1950.9,301.2 1948.0,296.5 C1945.1,291.8 1942.3,286.4 1939.5,281.5 C1936.7,276.6 1933.7,271.9 1931.0,267.0 C1928.3,262.1 1925.9,257.0 1923.5,252.0 C1921.1,247.0 1918.5,242.0 1916.5,237.0 C1914.5,232.0 1912.8,226.6 1911.5,222.0 C1910.2,217.4 1909.5,213.7 1909.0,209.5 C1908.5,205.3 1908.2,201.1 1908.5,197.0 C1908.8,192.9 1909.6,189.1 1911.0,185.0 C1912.4,180.9 1914.5,176.7 1917.0,172.5 C1919.5,168.3 1921.6,165.8 1926.0,160.0 C1930.4,154.2 1938.5,144.2 1943.5,137.5 C1948.5,130.8 1952.5,125.6 1956.0,120.0 C1959.5,114.4 1962.3,109.5 1964.5,104.0 C1966.7,98.5 1968.1,92.8 1969.0,87.0 C1969.9,81.2 1969.1,75.1 1970.0,69.0 C1970.9,62.9 1971.9,56.4 1974.5,50.5 C1977.1,44.6 1980.8,38.8 1985.5,33.5 C1990.2,28.2 1995.6,22.6 2002.5,18.8 C2009.4,15.0 2017.8,12.4 2027.0,10.8 C2036.2,9.2 2047.7,8.8 2058.0,9.0Z" fill="#90e455"/>
<path d="M2037.0,12.0 C2034.6,13.1 2027.6,14.4 2022.5,18.6 C2017.4,22.8 2009.5,30.0 2006.4,37.3 C2003.3,44.6 2004.1,55.0 2003.9,62.2 C2003.7,69.5 2005.4,73.5 2005.1,80.8 C2004.8,88.0 2003.4,98.5 2001.9,105.7 C2000.3,113.0 1999.0,117.0 1995.8,124.3 C1992.7,131.5 1986.9,142.1 1982.9,149.2 C1979.0,156.3 1975.2,161.1 1972.0,167.0 C1968.7,172.9 1965.2,177.8 1963.4,184.9 C1961.5,192.0 1961.1,201.4 1960.9,209.7 C1960.7,218.0 1961.0,226.3 1962.2,234.6 C1963.5,242.9 1965.9,251.2 1968.4,259.5 C1970.9,267.8 1974.4,276.0 1977.1,284.3 C1979.8,292.6 1982.4,300.9 1984.5,309.2 C1986.6,317.5 1987.8,325.5 1989.5,334.0 C1991.2,342.5 1994.1,355.7 1995.0,360.0 L1850.0,380.0 L1850.0,0.0 Z" fill="#b4f07f"/>
<path d="M2033.0,13.0 C2031.2,14.3 2027.6,17.1 2022.3,21.1 C2017.0,25.2 2006.2,31.5 2001.2,37.3 C1996.2,43.1 1994.5,49.7 1992.5,55.9 C1990.5,62.1 1990.1,68.4 1989.4,74.6 C1988.7,80.8 1989.0,87.0 1988.1,93.2 C1987.2,99.4 1986.4,105.7 1983.8,111.9 C1981.2,118.1 1976.9,123.2 1972.6,130.5 C1968.2,137.8 1962.5,147.7 1957.7,155.4 C1952.9,163.1 1948.3,169.5 1944.0,176.5 C1939.7,183.5 1933.9,190.7 1931.6,197.3 C1929.3,203.9 1929.7,209.8 1930.3,216.0 C1930.9,222.2 1932.8,227.3 1935.3,234.6 C1937.8,241.8 1941.7,251.2 1945.2,259.5 C1948.7,267.8 1952.7,276.0 1956.4,284.3 C1960.1,292.6 1964.1,300.9 1967.6,309.2 C1971.1,317.5 1974.9,325.5 1977.6,334.0 C1980.3,342.5 1982.9,355.7 1984.0,360.0 L1850.0,380.0 L1850.0,0.0 Z" fill="#dcf8c4"/>
<path d="M2130.0,25.0 C2132.5,28.1 2140.9,37.3 2144.8,43.5 C2148.7,49.7 2151.4,55.0 2153.5,62.2 C2155.6,69.5 2156.7,78.7 2157.3,87.0 C2157.9,95.3 2157.7,103.6 2157.3,111.9 C2156.9,120.2 2155.9,128.4 2154.8,136.7 C2153.8,145.0 2152.0,151.5 2151.0,161.6 C2150.0,171.7 2149.6,185.1 2148.6,197.3 C2147.6,209.5 2146.7,222.2 2144.8,234.6 C2142.9,247.0 2140.5,260.5 2137.4,271.9 C2134.3,283.3 2129.1,294.7 2126.2,303.0 C2123.3,311.3 2122.7,313.8 2120.0,321.6 C2117.3,329.4 2111.7,345.3 2110.0,350.0 L2250.0,380.0 L2250.0,0.0 Z" fill="#68d42a"/>
<path d="M2058.0,9.0 C2068.3,9.2 2079.7,10.2 2089.0,12.0 C2098.3,13.8 2105.8,16.4 2114.0,20.0 C2122.2,23.6 2130.9,28.3 2138.0,33.5 C2145.1,38.7 2151.0,44.8 2156.5,51.0 C2162.0,57.2 2167.2,64.0 2171.0,70.5 C2174.8,77.0 2177.4,83.1 2179.5,90.0 C2181.6,96.9 2182.6,104.2 2183.5,112.0 C2184.4,119.8 2184.7,128.7 2185.0,137.0 C2185.3,145.3 2185.2,154.0 2185.5,162.0 C2185.8,170.0 2186.2,177.0 2186.5,185.0 C2186.8,193.0 2187.4,201.7 2187.5,210.0 C2187.6,218.3 2187.5,226.7 2187.0,235.0 C2186.5,243.3 2185.7,252.0 2184.5,260.0 C2183.3,268.0 2181.9,275.8 2180.0,283.0 C2178.1,290.2 2176.0,296.5 2173.0,303.0 C2170.0,309.5 2166.0,316.2 2162.0,322.0 C2158.0,327.8 2153.5,333.0 2149.0,337.5 C2144.5,342.0 2140.7,345.6 2135.0,349.0 C2129.3,352.4 2125.8,355.3 2115.0,358.0 C2104.2,360.7 2087.5,364.7 2070.0,365.0 C2052.5,365.3 2025.0,363.3 2010.0,360.0 C1995.0,356.7 1987.2,351.0 1980.0,345.0 C1972.8,339.0 1970.8,329.8 1967.0,324.0 C1963.2,318.2 1960.2,314.6 1957.0,310.0 C1953.8,305.4 1950.9,301.2 1948.0,296.5 C1945.1,291.8 1942.3,286.4 1939.5,281.5 C1936.7,276.6 1933.7,271.9 1931.0,267.0 C1928.3,262.1 1925.9,257.0 1923.5,252.0 C1921.1,247.0 1918.5,242.0 1916.5,237.0 C1914.5,232.0 1912.8,226.6 1911.5,222.0 C1910.2,217.4 1909.5,213.7 1909.0,209.5 C1908.5,205.3 1908.2,201.1 1908.5,197.0 C1908.8,192.9 1909.6,189.1 1911.0,185.0 C1912.4,180.9 1914.5,176.7 1917.0,172.5 C1919.5,168.3 1921.6,165.8 1926.0,160.0 C1930.4,154.2 1938.5,144.2 1943.5,137.5 C1948.5,130.8 1952.5,125.6 1956.0,120.0 C1959.5,114.4 1962.3,109.5 1964.5,104.0 C1966.7,98.5 1968.1,92.8 1969.0,87.0 C1969.9,81.2 1969.1,75.1 1970.0,69.0 C1970.9,62.9 1971.9,56.4 1974.5,50.5 C1977.1,44.6 1980.8,38.8 1985.5,33.5 C1990.2,28.2 1995.6,22.6 2002.5,18.8 C2009.4,15.0 2017.8,12.4 2027.0,10.8 C2036.2,9.2 2047.7,8.8 2058.0,9.0Z" fill="none" stroke="#a4ec6c" stroke-width="10"/>
</g>
<path d="M2058.0,9.0 C2068.3,9.2 2079.7,10.2 2089.0,12.0 C2098.3,13.8 2105.8,16.4 2114.0,20.0 C2122.2,23.6 2130.9,28.3 2138.0,33.5 C2145.1,38.7 2151.0,44.8 2156.5,51.0 C2162.0,57.2 2167.2,64.0 2171.0,70.5 C2174.8,77.0 2177.4,83.1 2179.5,90.0 C2181.6,96.9 2182.6,104.2 2183.5,112.0 C2184.4,119.8 2184.7,128.7 2185.0,137.0 C2185.3,145.3 2185.2,154.0 2185.5,162.0 C2185.8,170.0 2186.2,177.0 2186.5,185.0 C2186.8,193.0 2187.4,201.7 2187.5,210.0 C2187.6,218.3 2187.5,226.7 2187.0,235.0 C2186.5,243.3 2185.7,252.0 2184.5,260.0 C2183.3,268.0 2181.9,275.8 2180.0,283.0 C2178.1,290.2 2176.0,296.5 2173.0,303.0 C2170.0,309.5 2166.0,316.2 2162.0,322.0 C2158.0,327.8 2153.5,333.0 2149.0,337.5 C2144.5,342.0 2140.7,345.6 2135.0,349.0 C2129.3,352.4 2125.8,355.3 2115.0,358.0 C2104.2,360.7 2087.5,364.7 2070.0,365.0 C2052.5,365.3 2025.0,363.3 2010.0,360.0 C1995.0,356.7 1987.2,351.0 1980.0,345.0 C1972.8,339.0 1970.8,329.8 1967.0,324.0 C1963.2,318.2 1960.2,314.6 1957.0,310.0 C1953.8,305.4 1950.9,301.2 1948.0,296.5 C1945.1,291.8 1942.3,286.4 1939.5,281.5 C1936.7,276.6 1933.7,271.9 1931.0,267.0 C1928.3,262.1 1925.9,257.0 1923.5,252.0 C1921.1,247.0 1918.5,242.0 1916.5,237.0 C1914.5,232.0 1912.8,226.6 1911.5,222.0 C1910.2,217.4 1909.5,213.7 1909.0,209.5 C1908.5,205.3 1908.2,201.1 1908.5,197.0 C1908.8,192.9 1909.6,189.1 1911.0,185.0 C1912.4,180.9 1914.5,176.7 1917.0,172.5 C1919.5,168.3 1921.6,165.8 1926.0,160.0 C1930.4,154.2 1938.5,144.2 1943.5,137.5 C1948.5,130.8 1952.5,125.6 1956.0,120.0 C1959.5,114.4 1962.3,109.5 1964.5,104.0 C1966.7,98.5 1968.1,92.8 1969.0,87.0 C1969.9,81.2 1969.1,75.1 1970.0,69.0 C1970.9,62.9 1971.9,56.4 1974.5,50.5 C1977.1,44.6 1980.8,38.8 1985.5,33.5 C1990.2,28.2 1995.6,22.6 2002.5,18.8 C2009.4,15.0 2017.8,12.4 2027.0,10.8 C2036.2,9.2 2047.7,8.8 2058.0,9.0Z" fill="none" stroke="#081603" stroke-width="2.8"/>
<ellipse cx="2054.0" cy="345.7" rx="76.0" ry="56.0" fill="url(#gGDP)" stroke="#1c2a3a" stroke-width="1.8" filter="url(#sh)"/>
<text x="2066.0" y="376.0" font-size="61.5" text-anchor="middle" font-weight="normal" stroke="#050505" stroke-width="0.5" >GDP</text>
<text x="2069.9" y="170.5" font-size="61.5" text-anchor="middle" font-weight="normal" stroke="#050505" stroke-width="0.5" >Inactive</text>
<text x="2070.0" y="243.0" font-size="61.5" text-anchor="middle" font-weight="normal" stroke="#050505" stroke-width="0.5" >KRAS</text>
<ellipse cx="1247.2" cy="610.7" rx="74.2" ry="58.3" fill="url(#gGDP)" stroke="#1c2a3a" stroke-width="1.8" filter="url(#sh)"/>
<text x="1255.0" y="635.0" font-size="61.5" text-anchor="middle" font-weight="normal" stroke="#050505" stroke-width="0.5" >GDP</text>
<ellipse cx="2629.4" cy="609.0" rx="75.0" ry="57.5" fill="url(#gGDP)" stroke="#1c2a3a" stroke-width="1.8" filter="url(#sh)"/>
<text x="2637.5" y="635.5" font-size="61.5" text-anchor="middle" font-weight="normal" stroke="#050505" stroke-width="0.5" >GDP</text>
<clipPath id="clipHB"><path d="M1546.0,743.9 C1545.7,740.9 1549.9,735.5 1552.8,730.2 C1555.7,724.9 1559.6,718.1 1563.4,712.0 C1567.2,705.9 1571.5,699.3 1575.6,693.7 C1579.6,688.2 1583.7,683.6 1587.8,678.5 C1591.8,673.5 1595.9,668.2 1599.9,663.3 C1604.0,658.5 1608.0,654.2 1612.1,649.7 C1616.1,645.1 1620.4,640.1 1624.2,636.0 C1628.0,631.9 1631.6,627.3 1634.9,625.0 C1638.2,622.8 1641.4,623.2 1644.0,622.6 C1646.5,622.0 1648.5,622.6 1650.1,621.6 C1651.6,620.5 1652.0,618.9 1653.1,616.2 C1654.2,613.6 1655.4,609.6 1656.9,605.6 C1658.4,601.5 1660.0,596.3 1661.9,591.9 C1663.8,587.5 1666.2,582.3 1668.3,579.0 C1670.4,575.7 1672.5,573.7 1674.4,572.2 C1676.3,570.7 1678.0,570.2 1679.7,570.0 C1681.3,569.8 1683.1,570.1 1684.3,570.9 C1685.4,571.8 1686.4,573.3 1686.8,575.2 C1687.3,577.0 1687.5,578.9 1687.1,582.0 C1686.8,585.2 1685.8,590.0 1684.7,594.2 C1683.6,598.4 1682.0,603.0 1680.8,607.4 C1679.5,611.8 1678.1,616.5 1677.1,620.8 C1676.1,625.0 1675.5,629.4 1675.0,632.9 C1674.4,636.5 1673.2,640.2 1673.8,642.1 C1674.3,644.0 1676.3,645.4 1678.2,644.3 C1680.1,643.3 1682.7,638.6 1685.0,636.0 C1687.3,633.3 1689.7,630.4 1691.9,628.4 C1694.0,626.4 1695.5,625.1 1697.9,623.8 C1700.3,622.6 1703.6,621.0 1706.3,620.8 C1709.0,620.5 1712.3,621.3 1713.9,622.3 C1715.5,623.3 1716.0,625.0 1715.7,626.9 C1715.5,628.8 1713.8,631.4 1712.4,633.7 C1710.9,636.0 1709.0,638.3 1707.1,640.9 C1705.1,643.4 1702.6,646.2 1700.5,648.8 C1698.5,651.3 1696.4,653.9 1694.7,656.4 C1693.1,658.8 1690.6,662.2 1690.5,663.6 C1690.3,665.1 1693.1,664.2 1693.8,665.2 C1694.5,666.2 1695.0,668.3 1694.6,669.7 C1694.2,671.1 1692.7,673.1 1691.4,673.7 C1690.1,674.3 1688.2,672.1 1686.5,673.2 C1684.8,674.3 1683.1,677.7 1681.2,680.4 C1679.3,683.1 1677.4,686.4 1675.1,689.5 C1672.9,692.6 1670.6,696.1 1667.5,698.9 C1664.5,701.7 1660.3,704.3 1656.9,706.5 C1653.5,708.8 1649.9,710.5 1647.0,712.4 C1644.2,714.4 1641.8,715.9 1639.7,718.1 C1637.7,720.3 1636.6,722.1 1634.9,725.7 C1633.2,729.2 1631.3,734.8 1629.5,739.3 C1627.8,743.9 1626.0,749.1 1624.2,753.0 C1622.5,756.9 1621.4,760.8 1618.9,762.9 C1616.4,765.0 1612.4,765.5 1609.0,765.5 C1605.6,765.4 1601.9,764.0 1598.4,762.4 C1594.8,760.9 1591.6,758.9 1587.8,756.4 C1584.0,753.8 1579.4,748.4 1575.6,747.2 C1571.8,746.1 1568.5,749.2 1565.0,749.4 C1561.4,749.6 1557.5,749.4 1554.3,748.4 C1551.1,747.5 1546.2,746.9 1546.0,743.9Z"/></clipPath>
<g clip-path="url(#clipHB)">
<path d="M1546.0,743.9 C1545.7,740.9 1549.9,735.5 1552.8,730.2 C1555.7,724.9 1559.6,718.1 1563.4,712.0 C1567.2,705.9 1571.5,699.3 1575.6,693.7 C1579.6,688.2 1583.7,683.6 1587.8,678.5 C1591.8,673.5 1595.9,668.2 1599.9,663.3 C1604.0,658.5 1608.0,654.2 1612.1,649.7 C1616.1,645.1 1620.4,640.1 1624.2,636.0 C1628.0,631.9 1631.6,627.3 1634.9,625.0 C1638.2,622.8 1641.4,623.2 1644.0,622.6 C1646.5,622.0 1648.5,622.6 1650.1,621.6 C1651.6,620.5 1652.0,618.9 1653.1,616.2 C1654.2,613.6 1655.4,609.6 1656.9,605.6 C1658.4,601.5 1660.0,596.3 1661.9,591.9 C1663.8,587.5 1666.2,582.3 1668.3,579.0 C1670.4,575.7 1672.5,573.7 1674.4,572.2 C1676.3,570.7 1678.0,570.2 1679.7,570.0 C1681.3,569.8 1683.1,570.1 1684.3,570.9 C1685.4,571.8 1686.4,573.3 1686.8,575.2 C1687.3,577.0 1687.5,578.9 1687.1,582.0 C1686.8,585.2 1685.8,590.0 1684.7,594.2 C1683.6,598.4 1682.0,603.0 1680.8,607.4 C1679.5,611.8 1678.1,616.5 1677.1,620.8 C1676.1,625.0 1675.5,629.4 1675.0,632.9 C1674.4,636.5 1673.2,640.2 1673.8,642.1 C1674.3,644.0 1676.3,645.4 1678.2,644.3 C1680.1,643.3 1682.7,638.6 1685.0,636.0 C1687.3,633.3 1689.7,630.4 1691.9,628.4 C1694.0,626.4 1695.5,625.1 1697.9,623.8 C1700.3,622.6 1703.6,621.0 1706.3,620.8 C1709.0,620.5 1712.3,621.3 1713.9,622.3 C1715.5,623.3 1716.0,625.0 1715.7,626.9 C1715.5,628.8 1713.8,631.4 1712.4,633.7 C1710.9,636.0 1709.0,638.3 1707.1,640.9 C1705.1,643.4 1702.6,646.2 1700.5,648.8 C1698.5,651.3 1696.4,653.9 1694.7,656.4 C1693.1,658.8 1690.6,662.2 1690.5,663.6 C1690.3,665.1 1693.1,664.2 1693.8,665.2 C1694.5,666.2 1695.0,668.3 1694.6,669.7 C1694.2,671.1 1692.7,673.1 1691.4,673.7 C1690.1,674.3 1688.2,672.1 1686.5,673.2 C1684.8,674.3 1683.1,677.7 1681.2,680.4 C1679.3,683.1 1677.4,686.4 1675.1,689.5 C1672.9,692.6 1670.6,696.1 1667.5,698.9 C1664.5,701.7 1660.3,704.3 1656.9,706.5 C1653.5,708.8 1649.9,710.5 1647.0,712.4 C1644.2,714.4 1641.8,715.9 1639.7,718.1 C1637.7,720.3 1636.6,722.1 1634.9,725.7 C1633.2,729.2 1631.3,734.8 1629.5,739.3 C1627.8,743.9 1626.0,749.1 1624.2,753.0 C1622.5,756.9 1621.4,760.8 1618.9,762.9 C1616.4,765.0 1612.4,765.5 1609.0,765.5 C1605.6,765.4 1601.9,764.0 1598.4,762.4 C1594.8,760.9 1591.6,758.9 1587.8,756.4 C1584.0,753.8 1579.4,748.4 1575.6,747.2 C1571.8,746.1 1568.5,749.2 1565.0,749.4 C1561.4,749.6 1557.5,749.4 1554.3,748.4 C1551.1,747.5 1546.2,746.9 1546.0,743.9Z" fill="#f8dfec"/>
<path d="M1543.7,746.9 C1543.7,743.6 1549.5,736.0 1552.8,730.2 C1556.1,724.4 1559.6,718.1 1563.4,712.0 C1567.2,705.9 1571.5,699.3 1575.6,693.7 C1579.6,688.2 1583.7,683.6 1587.8,678.5 C1591.8,673.5 1595.9,668.2 1599.9,663.3 C1604.0,658.5 1608.0,654.2 1612.1,649.7 C1616.1,645.1 1620.4,640.1 1624.2,636.0 C1628.0,631.9 1630.6,627.6 1634.9,625.0 C1639.2,622.5 1647.0,622.3 1650.1,620.8 C1653.1,619.3 1652.0,618.8 1653.1,616.2 C1654.2,613.7 1655.4,609.6 1656.9,605.6 C1658.4,601.5 1660.0,596.3 1661.9,591.9 C1663.8,587.5 1666.2,582.3 1668.3,579.0 C1670.4,575.7 1672.4,573.8 1674.4,572.2 C1676.4,570.5 1679.8,568.7 1680.5,569.1 C1681.1,569.5 1679.6,572.2 1678.2,574.4 C1676.8,576.7 1674.1,579.3 1672.1,582.8 C1670.1,586.3 1667.9,591.3 1666.0,595.7 C1664.2,600.1 1662.5,605.2 1661.0,609.4 C1659.5,613.6 1658.5,618.1 1656.9,620.8 C1655.3,623.5 1654.4,624.5 1651.6,625.7 C1648.8,626.8 1643.7,625.9 1640.2,627.6 C1636.6,629.4 1634.1,632.1 1630.3,636.0 C1626.5,639.9 1621.6,646.1 1617.4,651.2 C1613.2,656.3 1609.3,661.3 1605.2,666.4 C1601.2,671.4 1597.0,676.5 1593.1,681.6 C1589.1,686.6 1585.5,691.2 1581.7,696.8 C1577.8,702.4 1573.5,708.9 1569.8,715.0 C1566.1,721.1 1562.5,727.4 1559.6,733.3 C1556.8,739.1 1555.5,747.7 1552.8,750.0 C1550.1,752.2 1543.7,750.2 1543.7,746.9Z" fill="#dd6f86"/>
<path d="M1548.2,748.4 C1547.1,745.5 1553.1,738.2 1556.1,732.5 C1559.2,726.8 1562.8,720.3 1566.5,714.3 C1570.2,708.2 1574.4,701.6 1578.3,696.0 C1582.3,690.5 1586.2,686.0 1590.2,681.0 C1594.2,675.9 1598.3,670.7 1602.3,665.8 C1606.4,660.9 1610.3,656.3 1614.5,651.5 C1618.7,646.7 1623.6,640.6 1627.3,636.7 C1630.9,632.9 1633.3,630.0 1636.4,628.4 C1639.4,626.7 1645.0,626.4 1645.5,626.9 C1646.0,627.4 1642.5,628.4 1639.4,631.4 C1636.4,634.5 1631.3,640.3 1627.3,645.1 C1623.2,649.9 1619.2,655.2 1615.1,660.3 C1611.1,665.4 1607.0,670.4 1602.9,675.5 C1598.9,680.6 1594.6,685.6 1590.8,690.7 C1587.0,695.8 1583.4,700.6 1580.2,705.9 C1576.9,711.2 1573.6,717.5 1571.0,722.6 C1568.5,727.7 1566.3,731.7 1565.0,736.3 C1563.6,740.9 1565.5,747.9 1562.7,750.0 C1559.9,752.0 1549.3,751.4 1548.2,748.4Z" fill="#eea0b0"/>
<path d="M1615.1,658.8 C1616.4,655.5 1620.7,649.7 1624.2,645.1 C1627.8,640.5 1632.1,634.5 1636.4,631.4 C1640.7,628.4 1646.8,628.1 1650.1,626.9 C1653.4,625.6 1655.9,622.8 1656.1,623.8 C1656.4,624.8 1653.9,629.4 1651.6,632.9 C1649.3,636.5 1645.5,641.1 1642.5,645.1 C1639.4,649.2 1636.6,654.0 1633.3,657.3 C1630.1,660.6 1625.5,663.6 1622.7,664.9 C1619.9,666.1 1617.9,665.9 1616.6,664.9 C1615.4,663.9 1613.8,662.1 1615.1,658.8Z" fill="#f3b4c4"/>
<path d="M1593.8,757.6 C1594.1,752.8 1598.4,742.4 1601.4,734.8 C1604.5,727.2 1608.5,718.6 1612.1,712.0 C1615.6,705.4 1619.7,698.6 1622.7,695.3 C1625.7,692.0 1628.0,691.2 1630.3,692.2 C1632.6,693.2 1635.0,698.0 1636.4,701.3 C1637.8,704.6 1639.9,708.2 1638.7,712.0 C1637.4,715.8 1631.7,719.6 1628.8,724.1 C1625.9,728.7 1623.5,734.5 1621.2,739.3 C1618.9,744.1 1616.9,748.7 1615.1,753.0 C1613.3,757.3 1613.1,763.4 1610.5,765.2 C1608.0,766.9 1602.7,764.9 1599.9,763.6 C1597.1,762.4 1593.6,762.4 1593.8,757.6Z" fill="#f2b1c1"/>
<path d="M1609.0,764.4 C1608.3,762.3 1613.1,755.9 1615.1,751.8 C1617.1,747.7 1618.9,743.7 1621.2,739.6 C1623.5,735.6 1626.3,730.9 1628.8,727.5 C1631.3,724.0 1634.1,720.6 1636.4,718.8 C1638.7,717.0 1642.5,715.1 1642.5,716.5 C1642.5,717.9 1638.4,723.1 1636.4,727.2 C1634.4,731.2 1632.2,736.3 1630.3,740.9 C1628.4,745.4 1626.8,750.6 1625.0,754.5 C1623.2,758.5 1622.3,762.8 1619.7,764.4 C1617.0,766.1 1609.8,766.5 1609.0,764.4Z" fill="#ee9db0"/>
<path d="M1695.7,624.6 C1696.9,623.5 1703.2,620.9 1706.3,620.5 C1709.4,620.1 1712.6,620.9 1714.2,622.0 C1715.8,623.1 1716.4,624.8 1716.0,626.9 C1715.6,628.9 1712.5,633.8 1711.6,634.5 C1710.7,635.2 1711.7,632.1 1710.5,631.1 C1709.4,630.1 1706.7,629.1 1704.8,628.4 C1702.8,627.7 1700.2,627.5 1698.7,626.9 C1697.2,626.2 1694.4,625.7 1695.7,624.6Z" fill="#e27e92"/>
<path d="M1698.7,631.4 C1699.0,630.9 1701.3,631.2 1701.7,632.9 C1702.2,634.7 1701.7,641.6 1701.4,642.1 C1701.1,642.6 1700.4,637.8 1699.9,636.0 C1699.5,634.2 1698.4,631.9 1698.7,631.4Z" fill="#e27e92"/>
</g>
<path d="M1633.3,628.4 C1634.1,627.8 1636.1,625.8 1637.9,625.0 C1639.7,624.3 1642.0,624.2 1644.0,623.8 C1646.0,623.5 1648.4,624.0 1650.1,623.1 C1651.7,622.2 1652.6,620.9 1653.9,618.5 C1655.1,616.1 1656.3,612.3 1657.7,608.6 C1659.1,605.0 1660.6,600.5 1662.2,596.5 C1663.9,592.4 1665.8,587.9 1667.5,584.3 C1669.3,580.8 1671.1,577.4 1672.9,575.2 C1674.6,573.0 1676.5,572.1 1678.2,571.4 C1679.8,570.7 1681.5,570.4 1682.7,570.9 C1684.0,571.4 1685.1,572.7 1685.8,574.4 C1686.4,576.2 1686.8,578.1 1686.5,581.3 C1686.3,584.4 1685.3,589.1 1684.3,593.4 C1683.2,597.7 1681.7,602.6 1680.5,607.1 C1679.2,611.7 1677.7,616.5 1676.7,620.8 C1675.6,625.1 1675.0,629.1 1674.4,632.9 C1673.7,636.7 1673.6,639.9 1672.9,643.6 C1672.1,647.3 1670.3,653.1 1669.8,655.0" fill="none" stroke="#0a0a0a" stroke-width="3" stroke-linecap="round"/>
<path d="M1593.8,680.1 C1596.4,676.8 1604.5,666.4 1609.0,660.3 C1613.6,654.2 1617.1,648.9 1621.2,643.6 C1625.2,638.3 1631.3,630.9 1633.3,628.4" fill="none" stroke="#7a1426" stroke-width="2.2" stroke-linecap="round"/>
<path d="M1669.8,655.0 C1670.8,653.8 1673.6,650.8 1675.9,648.1 C1678.2,645.5 1681.0,641.8 1683.5,639.0 C1686.0,636.2 1688.6,633.5 1691.1,631.4 C1693.6,629.4 1696.4,627.4 1698.7,626.9 C1701.0,626.4 1702.9,627.6 1704.8,628.4 C1706.7,629.1 1709.1,630.4 1710.1,631.4 C1711.1,632.4 1711.5,632.9 1710.9,634.5 C1710.2,636.0 1708.1,638.3 1706.3,640.5 C1704.5,642.8 1702.2,645.6 1700.2,648.1 C1698.2,650.7 1695.9,653.2 1694.1,655.7 C1692.4,658.3 1691.1,660.6 1689.6,663.3 C1688.1,666.1 1686.5,669.7 1685.0,672.5 C1683.5,675.2 1682.2,677.3 1680.5,680.1 C1678.7,682.8 1676.7,686.1 1674.4,689.2 C1672.1,692.2 1669.8,695.5 1666.8,698.3 C1663.7,701.1 1659.7,703.6 1656.1,705.9 C1652.6,708.2 1648.8,709.9 1645.5,712.0 C1642.2,714.0 1639.2,715.5 1636.4,718.1 C1633.6,720.6 1631.3,723.6 1628.8,727.2 C1626.3,730.7 1623.5,735.3 1621.2,739.3 C1618.9,743.4 1617.1,747.4 1615.1,751.5 C1613.1,755.5 1610.0,761.6 1609.0,763.6" fill="none" stroke="#0a0a0a" stroke-width="3" stroke-linecap="round"/>
<path d="M1689.9,663.6 C1690.5,663.9 1692.7,664.2 1693.4,665.2 C1694.1,666.2 1694.5,668.4 1694.1,669.7 C1693.8,671.1 1692.2,672.8 1691.1,673.2 C1690.0,673.7 1687.9,672.6 1687.3,672.5" fill="none" stroke="#0a0a0a" stroke-width="2" stroke-linecap="round"/>
<path d="M1675.9,636.0 C1676.5,636.5 1678.7,638.3 1679.7,639.0 C1680.7,639.8 1681.6,640.3 1682.0,640.5" fill="none" stroke="#0a0a0a" stroke-width="1.5" stroke-linecap="round"/>
<rect x="1406.2" y="773.5" width="245.2" height="382.4" rx="30" fill="#ffffff" stroke="#e9b292" stroke-width="4.6"/>
<circle cx="1527.0" cy="891.4" r="91.2" fill="none" stroke="#0a0a0a" stroke-width="10.8"/>
<circle cx="1486" cy="874.7" r="15.4" fill="#0a0a0a"/><circle cx="1567.9" cy="874.7" r="15.4" fill="#0a0a0a"/>
<path d="M1486.5,893.5 C1483.0,905 1477.5,912 1476.0,918 A9,9 0 1 0 1494.0,918 C1492.5,912 1489.0,905 1486.5,893.5Z" fill="#3f90da"/>
<path d="M1573.5,893.5 C1570.0,905 1564.5,912 1563.0,918 A9,9 0 1 0 1581.0,918 C1579.5,912 1576.0,905 1573.5,893.5Z" fill="#3f90da"/>
<path d="M1480.3,945.3 Q1527.5,896.5 1574.4,944.4" fill="none" stroke="#0a0a0a" stroke-width="10" stroke-linecap="round"/>
<text x="1530.6" y="1067.6" font-size="61.5" text-anchor="middle" font-weight="normal" stroke="#050505" stroke-width="0.5" >KRAS</text>
<text x="1532.0" y="1138.8" font-size="61.5" text-anchor="middle" font-weight="normal" stroke="#050505" stroke-width="0.5" >G12C</text>
<clipPath id="clipRAF2116"><circle cx="2116.7" cy="706.1" r="105.0"/></clipPath>
<circle cx="2116.7" cy="706.1" r="105.0" fill="url(#gRAF)" stroke="#123a7a" stroke-width="1.5"/>
<g clip-path="url(#clipRAF2116)">
<text transform="translate(2213.0,696.0) rotate(-90)" font-size="60" text-anchor="middle" stroke="#050505" stroke-width="0.5">RAF</text></g>
<path d="M2022.4,550.2 C2036.0,549.9 2051.4,552.8 2063.0,556.0 C2074.6,559.1 2084.1,563.8 2092.1,569.0 C2100.0,574.2 2105.3,580.6 2110.6,587.0 C2116.0,593.4 2120.1,600.7 2124.2,607.6 C2128.4,614.5 2131.3,620.8 2135.6,628.2 C2139.9,635.5 2145.1,643.8 2150.1,651.7 C2155.0,659.5 2161.5,667.7 2165.1,675.2 C2168.8,682.7 2171.4,689.2 2171.8,696.6 C2172.2,704.1 2170.1,712.1 2167.5,719.8 C2164.8,727.6 2160.7,734.8 2155.9,743.0 C2151.0,751.3 2143.3,760.9 2138.5,769.2 C2133.6,777.4 2129.5,784.6 2126.9,792.4 C2124.2,800.1 2123.5,807.8 2122.5,815.6 C2121.5,823.3 2122.3,832.0 2121.1,838.8 C2119.9,845.5 2118.6,850.9 2115.3,856.2 C2111.9,861.5 2109.5,865.4 2100.8,870.7 C2092.1,876.0 2081.4,885.2 2063.0,888.1 C2044.7,891.0 2008.9,889.3 1990.5,888.1 C1972.2,886.9 1962.0,883.7 1952.8,880.8 C1943.6,877.9 1940.7,875.3 1935.4,870.7 C1930.1,866.1 1925.0,860.0 1920.9,853.3 C1916.8,846.5 1912.9,838.8 1910.8,830.1 C1908.6,821.4 1908.6,810.7 1907.9,801.1 C1907.1,791.4 1907.6,782.7 1906.4,772.1 C1905.2,761.4 1902.3,749.3 1900.6,737.2 C1898.9,725.2 1897.2,712.1 1896.3,699.5 C1895.3,687.0 1894.1,673.4 1894.8,661.8 C1895.5,650.2 1896.7,640.1 1900.6,629.9 C1904.5,619.8 1910.3,610.1 1918.0,600.9 C1925.7,591.7 1936.4,582.1 1947.0,574.8 C1957.7,567.6 1969.3,561.5 1981.8,557.4 C1994.4,553.3 2008.9,550.4 2022.4,550.2Z" fill="#ff6a12" stroke="#3a1400" stroke-width="2.4"/>
<path d="M2122.3,826.5 Q2110.7,841.9 2100.2,870.7 Q2113.0,857.5 2122.7,837.4 Z" fill="#fefefa"/>
<path d="M2135.5,808.5 Q2140.5,800 2149.0,792.5 Q2144.5,802 2135.5,808.5 Z" fill="#fefefa"/>
<text x="2028.3" y="685.0" font-size="61.5" text-anchor="middle" font-weight="normal" stroke="#050505" stroke-width="0.5" >Active</text>
<text x="2032.0" y="757.6" font-size="61.5" text-anchor="middle" font-weight="normal" stroke="#050505" stroke-width="0.5" >KRAS</text>
<ellipse cx="2026.5" cy="874.0" rx="74.3" ry="57.0" fill="url(#gGTP)" stroke="#1c2a3a" stroke-width="1.8" filter="url(#sh)"/>
<text x="2033.3" y="904.0" font-size="61.5" text-anchor="middle" font-weight="normal" stroke="#050505" stroke-width="0.5" >GTP</text>
<path d="M2005.0,955.4 H2054.0 V1039.0 H2080.0 L2030.3,1088.0 L1980.0,1039.0 H2005.0 Z" fill="#f1a676" stroke="#d38e5e" stroke-width="1.2"/>
<path d="M2186.0,1252.0 H2271.0 V1228.0 L2319.5,1276.0 L2271.0,1324.0 V1298.5 H2186.0 Z" fill="#f1a676" stroke="#d38e5e" stroke-width="1.2"/>
<ellipse cx="1952.3" cy="1193.1" rx="72.1" ry="66.1" fill="#07060c"/>
<ellipse cx="1952.3" cy="1193.1" rx="69.1" ry="63.1" fill="none" stroke="#9a97ba" stroke-width="0.9"/>
<ellipse cx="1956.3" cy="1189.1" rx="64.1" ry="57.8" fill="url(#gSphD)"/>
<ellipse cx="1952.3" cy="1316.3" rx="51.8" ry="48.0" fill="#07060c"/>
<ellipse cx="1952.3" cy="1316.3" rx="49.3" ry="45.5" fill="none" stroke="#9a97ba" stroke-width="0.9"/>
<ellipse cx="1955.2" cy="1313.4" rx="45.5" ry="41.4" fill="url(#gSphD)"/>
<ellipse cx="1952.3" cy="1395.6" rx="30.5" ry="28.2" fill="#07060c"/>
<ellipse cx="1952.3" cy="1395.6" rx="28.6" ry="26.3" fill="none" stroke="#9a97ba" stroke-width="0.9"/>
<ellipse cx="1954.1" cy="1393.8" rx="25.9" ry="23.3" fill="url(#gSphD)"/>
<ellipse cx="1952.3" cy="1448.2" rx="20.6" ry="18.6" fill="#07060c"/>
<ellipse cx="1953.6" cy="1446.9" rx="16.8" ry="14.5" fill="url(#gSphD)"/>
<ellipse cx="1952.3" cy="1484.3" rx="12.0" ry="11.3" fill="#07060c"/>
<ellipse cx="1953.1" cy="1483.5" rx="8.8" ry="7.8" fill="url(#gSphD)"/>
<ellipse cx="2103.0" cy="1193.1" rx="72.1" ry="66.1" fill="#07060c"/>
<ellipse cx="2103.0" cy="1193.1" rx="69.1" ry="63.1" fill="none" stroke="#9a97ba" stroke-width="0.9"/>
<ellipse cx="2107.0" cy="1189.1" rx="64.1" ry="57.8" fill="url(#gSphD)"/>
<ellipse cx="2103.0" cy="1316.3" rx="51.8" ry="48.0" fill="#07060c"/>
<ellipse cx="2103.0" cy="1316.3" rx="49.3" ry="45.5" fill="none" stroke="#9a97ba" stroke-width="0.9"/>
<ellipse cx="2105.9" cy="1313.4" rx="45.5" ry="41.4" fill="url(#gSphD)"/>
<ellipse cx="2103.0" cy="1395.6" rx="30.5" ry="28.2" fill="#07060c"/>
<ellipse cx="2103.0" cy="1395.6" rx="28.6" ry="26.3" fill="none" stroke="#9a97ba" stroke-width="0.9"/>
<ellipse cx="2104.8" cy="1393.8" rx="25.9" ry="23.3" fill="url(#gSphD)"/>
<ellipse cx="2103.0" cy="1448.2" rx="20.6" ry="18.6" fill="#07060c"/>
<ellipse cx="2104.3" cy="1446.9" rx="16.8" ry="14.5" fill="url(#gSphD)"/>
<ellipse cx="2103.0" cy="1484.3" rx="12.0" ry="11.3" fill="#07060c"/>
<ellipse cx="2103.8" cy="1483.5" rx="8.8" ry="7.8" fill="url(#gSphD)"/>
<text x="1703.5" y="1281.0" font-size="61.5" text-anchor="middle" font-weight="normal" stroke="#050505" stroke-width="0.5" >Downstream</text>
<text x="1701.5" y="1350.0" font-size="61.5" text-anchor="middle" font-weight="normal" stroke="#050505" stroke-width="0.5" >signaling</text>
<path d="M2442.0,1168.0 C2461.0,1157.0 2495.0,1167.3 2510.0,1168.0 C2525.0,1168.7 2526.7,1169.0 2532.0,1172.0 C2537.3,1175.0 2529.0,1176.3 2542.0,1186.0 C2555.0,1195.7 2596.0,1220.0 2610.0,1230.0 C2624.0,1240.0 2624.3,1235.3 2626.0,1246.0 C2627.7,1256.7 2622.7,1282.0 2620.0,1294.0 C2617.3,1306.0 2621.7,1309.3 2610.0,1318.0 C2598.3,1326.7 2573.3,1339.3 2550.0,1346.0 C2526.7,1352.7 2494.0,1363.0 2470.0,1358.0 C2446.0,1353.0 2418.3,1336.7 2406.0,1316.0 C2393.7,1295.3 2390.0,1258.7 2396.0,1234.0 C2402.0,1209.3 2423.0,1179.0 2442.0,1168.0Z" fill="#b56a22" stroke="#2a0d06" stroke-width="1.5"/>
<path d="M2507.6,1144.3 C2507.3,1150.9 2502.3,1162.9 2498.0,1168.9 C2493.8,1175.0 2488.5,1178.6 2482.0,1180.7 C2475.4,1182.8 2464.8,1183.3 2458.7,1181.4 C2452.5,1179.5 2449.0,1175.3 2445.1,1169.2 C2441.3,1163.1 2435.8,1151.9 2435.7,1144.6 C2435.6,1137.4 2440.6,1130.9 2444.6,1125.6 C2448.5,1120.3 2453.4,1115.0 2459.4,1112.6 C2465.4,1110.2 2473.7,1108.4 2480.5,1111.2 C2487.3,1114.0 2495.6,1123.7 2500.1,1129.2 C2504.6,1134.8 2508.0,1137.7 2507.6,1144.3Z" fill="url(#gTan)" stroke="#120a08" stroke-width="2.4" stroke-linejoin="round"/>
<path d="M2489.8,1146.5 C2489.4,1151.4 2486.6,1157.5 2482.6,1161.3 C2478.6,1165.0 2470.8,1169.2 2465.8,1169.0 C2460.8,1168.9 2455.7,1164.0 2452.5,1160.1 C2449.3,1156.3 2446.9,1150.8 2446.5,1145.9 C2446.1,1141.0 2446.0,1134.0 2450.1,1130.6 C2454.2,1127.3 2465.2,1125.4 2471.1,1125.7 C2476.9,1125.9 2482.3,1128.5 2485.5,1131.9 C2488.6,1135.4 2490.3,1141.6 2489.8,1146.5Z" fill="#fbf6e6"/>
<path d="M2486.2,1146.4 C2485.7,1150.4 2483.4,1155.4 2480.0,1158.6 C2476.7,1161.8 2470.3,1165.5 2466.2,1165.4 C2462.0,1165.2 2457.9,1160.9 2455.2,1157.6 C2452.6,1154.4 2450.6,1150.0 2450.2,1145.9 C2449.8,1141.8 2449.5,1135.8 2452.9,1133.0 C2456.3,1130.3 2465.6,1129.1 2470.5,1129.3 C2475.5,1129.5 2480.0,1131.4 2482.6,1134.3 C2485.2,1137.1 2486.6,1142.3 2486.2,1146.4Z" fill="#2c8fd9"/>
<path d="M2464.2,1204.1 C2464.4,1210.1 2461.6,1212.4 2457.3,1217.3 C2452.9,1222.2 2444.6,1231.3 2438.2,1233.7 C2431.9,1236.0 2424.9,1233.8 2418.9,1231.5 C2413.0,1229.2 2406.1,1225.2 2402.6,1220.0 C2399.2,1214.8 2397.9,1206.8 2398.0,1200.5 C2398.1,1194.2 2399.5,1187.6 2403.3,1182.2 C2407.1,1176.7 2414.2,1169.7 2420.8,1167.8 C2427.4,1165.8 2437.2,1168.2 2443.0,1170.5 C2448.9,1172.9 2452.4,1176.1 2455.9,1181.7 C2459.5,1187.3 2464.0,1198.2 2464.2,1204.1Z" fill="url(#gTan)" stroke="#120a08" stroke-width="2.4" stroke-linejoin="round"/>
<path d="M2453.3,1205.1 C2452.5,1210.1 2447.7,1217.3 2443.9,1220.8 C2440.1,1224.2 2434.7,1226.4 2430.3,1226.0 C2426.0,1225.5 2420.8,1220.9 2417.8,1217.9 C2414.7,1214.9 2411.9,1212.5 2412.2,1207.8 C2412.4,1203.2 2415.9,1193.9 2419.2,1190.1 C2422.5,1186.3 2427.1,1185.0 2432.0,1185.2 C2437.0,1185.4 2445.3,1188.0 2448.9,1191.3 C2452.5,1194.6 2454.2,1200.2 2453.3,1205.1Z" fill="#fbf6e6"/>
<path d="M2449.9,1205.1 C2449.2,1209.2 2445.1,1215.1 2441.9,1218.0 C2438.6,1221.0 2434.2,1223.0 2430.6,1222.6 C2427.0,1222.2 2422.8,1218.2 2420.3,1215.6 C2417.8,1213.1 2415.3,1211.2 2415.5,1207.4 C2415.7,1203.5 2418.6,1195.8 2421.4,1192.7 C2424.1,1189.6 2427.9,1188.4 2432.0,1188.6 C2436.2,1188.7 2443.3,1190.7 2446.3,1193.4 C2449.2,1196.2 2450.7,1201.0 2449.9,1205.1Z" fill="#2c8fd9"/>
<path d="M2538.1,1203.2 C2538.1,1209.8 2536.4,1218.9 2532.3,1224.4 C2528.1,1230.0 2519.3,1233.9 2513.3,1236.3 C2507.3,1238.8 2502.3,1241.0 2496.5,1239.2 C2490.6,1237.5 2482.5,1232.0 2478.1,1225.8 C2473.8,1219.5 2470.3,1208.7 2470.3,1201.6 C2470.2,1194.6 2473.9,1188.0 2478.0,1183.3 C2482.0,1178.6 2488.4,1175.3 2494.7,1173.4 C2501.0,1171.5 2509.5,1170.0 2515.8,1171.9 C2522.0,1173.8 2528.5,1179.5 2532.2,1184.7 C2535.9,1189.9 2538.1,1196.6 2538.1,1203.2Z" fill="url(#gTan)" stroke="#120a08" stroke-width="2.4" stroke-linejoin="round"/>
<path d="M2530.4,1211.4 C2530.6,1215.6 2529.2,1220.7 2525.9,1224.0 C2522.7,1227.2 2515.9,1230.4 2510.9,1230.8 C2505.9,1231.3 2499.8,1229.8 2496.0,1226.7 C2492.2,1223.6 2488.2,1217.6 2488.1,1212.2 C2487.9,1206.8 2491.6,1198.0 2495.0,1194.0 C2498.5,1190.1 2503.7,1187.7 2508.6,1188.5 C2513.5,1189.2 2520.8,1194.7 2524.4,1198.5 C2528.1,1202.3 2530.2,1207.1 2530.4,1211.4Z" fill="#fbf6e6"/>
<path d="M2527.0,1211.1 C2527.3,1214.7 2526.0,1219.1 2523.3,1221.8 C2520.6,1224.5 2514.8,1227.1 2510.6,1227.4 C2506.4,1227.8 2501.2,1226.6 2498.1,1224.0 C2494.9,1221.4 2491.6,1216.4 2491.5,1211.8 C2491.3,1207.3 2494.4,1199.9 2497.3,1196.6 C2500.1,1193.3 2504.6,1191.2 2508.7,1191.9 C2512.8,1192.5 2518.6,1197.4 2521.7,1200.6 C2524.8,1203.8 2526.7,1207.6 2527.0,1211.1Z" fill="#2c8fd9"/>
<path d="M2603.3,1213.2 C2603.1,1219.6 2600.7,1229.0 2597.3,1234.7 C2593.9,1240.4 2589.8,1245.2 2582.8,1247.5 C2575.7,1249.8 2562.0,1251.0 2554.8,1248.7 C2547.7,1246.4 2543.3,1239.5 2539.9,1233.9 C2536.4,1228.2 2534.1,1220.9 2534.1,1214.7 C2534.1,1208.5 2536.4,1202.4 2540.0,1196.7 C2543.5,1191.0 2548.5,1183.2 2555.6,1180.5 C2562.7,1177.9 2575.5,1178.4 2582.6,1181.0 C2589.7,1183.7 2594.7,1191.0 2598.2,1196.4 C2601.6,1201.7 2603.4,1206.8 2603.3,1213.2Z" fill="url(#gTan)" stroke="#120a08" stroke-width="2.4" stroke-linejoin="round"/>
<path d="M2589.2,1214.9 C2589.3,1220.5 2588.2,1229.9 2585.1,1234.0 C2581.9,1238.1 2575.7,1239.0 2570.3,1239.3 C2564.9,1239.7 2557.0,1239.2 2552.7,1236.0 C2548.4,1232.9 2544.4,1226.2 2544.5,1220.5 C2544.7,1214.8 2549.6,1206.2 2553.5,1202.0 C2557.5,1197.8 2563.0,1195.7 2568.2,1195.4 C2573.5,1195.1 2581.4,1197.0 2584.9,1200.2 C2588.4,1203.5 2589.2,1209.2 2589.2,1214.9Z" fill="#fbf6e6"/>
<path d="M2585.5,1215.4 C2585.5,1220.2 2584.9,1228.1 2582.3,1231.4 C2579.7,1234.8 2574.4,1235.3 2569.9,1235.6 C2565.4,1235.9 2558.7,1235.7 2555.1,1233.1 C2551.5,1230.6 2548.1,1224.8 2548.3,1220.1 C2548.4,1215.4 2552.8,1208.3 2556.1,1204.8 C2559.4,1201.4 2563.8,1199.5 2568.2,1199.2 C2572.6,1198.9 2579.4,1200.3 2582.2,1203.0 C2585.1,1205.7 2585.5,1210.7 2585.5,1215.4Z" fill="#2c8fd9"/>
<path d="M2429.8,1268.9 C2429.7,1276.7 2426.4,1285.9 2421.9,1291.8 C2417.4,1297.6 2409.0,1302.2 2402.8,1304.1 C2396.7,1305.9 2392.0,1305.9 2385.2,1303.0 C2378.3,1300.1 2366.2,1293.0 2361.7,1286.7 C2357.2,1280.4 2357.9,1271.8 2358.4,1265.2 C2358.8,1258.7 2360.5,1252.8 2364.4,1247.5 C2368.4,1242.2 2376.1,1235.7 2382.1,1233.4 C2388.1,1231.1 2393.9,1231.9 2400.5,1233.7 C2407.2,1235.6 2417.3,1238.9 2422.2,1244.7 C2427.1,1250.6 2429.8,1261.1 2429.8,1268.9Z" fill="url(#gTan)" stroke="#120a08" stroke-width="2.4" stroke-linejoin="round"/>
<path d="M2417.5,1273.9 C2417.2,1279.1 2413.0,1285.5 2409.0,1289.1 C2405.0,1292.6 2398.6,1295.5 2393.7,1295.3 C2388.7,1295.1 2382.6,1291.4 2379.2,1287.8 C2375.7,1284.3 2373.3,1279.1 2373.0,1274.0 C2372.7,1268.9 2373.9,1261.4 2377.5,1257.2 C2381.1,1253.0 2389.2,1248.5 2394.8,1248.6 C2400.4,1248.7 2407.0,1253.7 2410.8,1257.9 C2414.6,1262.2 2417.8,1268.8 2417.5,1273.9Z" fill="#fbf6e6"/>
<path d="M2413.7,1273.8 C2413.5,1278.1 2409.8,1283.2 2406.5,1286.2 C2403.2,1289.1 2398.0,1291.7 2393.9,1291.5 C2389.8,1291.4 2384.8,1288.2 2382.0,1285.2 C2379.1,1282.3 2377.1,1278.1 2376.8,1273.8 C2376.5,1269.6 2377.3,1263.3 2380.3,1259.8 C2383.3,1256.2 2390.2,1252.3 2394.8,1252.4 C2399.5,1252.6 2404.9,1257.0 2408.1,1260.6 C2411.2,1264.1 2414.0,1269.5 2413.7,1273.8Z" fill="#2c8fd9"/>
<path d="M2496.9,1266.0 C2496.7,1272.0 2492.6,1278.1 2489.2,1282.9 C2485.8,1287.7 2482.5,1292.4 2476.5,1294.7 C2470.4,1296.9 2459.5,1297.9 2452.8,1296.2 C2446.0,1294.5 2440.1,1289.7 2436.2,1284.6 C2432.2,1279.4 2428.9,1272.4 2429.1,1265.5 C2429.3,1258.7 2433.5,1249.1 2437.4,1243.6 C2441.4,1238.0 2447.2,1234.0 2452.9,1232.0 C2458.5,1230.1 2465.1,1229.5 2471.3,1231.9 C2477.5,1234.3 2486.0,1241.0 2490.2,1246.6 C2494.5,1252.3 2497.1,1259.9 2496.9,1266.0Z" fill="url(#gTan)" stroke="#120a08" stroke-width="2.4" stroke-linejoin="round"/>
<path d="M2485.5,1265.5 C2485.7,1269.9 2483.8,1276.4 2480.7,1279.9 C2477.5,1283.5 2471.6,1286.5 2466.6,1286.9 C2461.5,1287.2 2454.7,1285.4 2450.6,1282.3 C2446.4,1279.2 2442.3,1273.0 2441.6,1268.3 C2441.0,1263.5 2443.1,1257.7 2446.4,1253.8 C2449.7,1249.8 2456.0,1244.6 2461.5,1244.6 C2467.1,1244.5 2475.6,1250.0 2479.6,1253.5 C2483.6,1257.0 2485.3,1261.1 2485.5,1265.5Z" fill="#fbf6e6"/>
<path d="M2481.9,1265.8 C2482.1,1269.4 2480.4,1274.8 2477.8,1277.7 C2475.2,1280.6 2470.2,1283.0 2466.1,1283.3 C2462.0,1283.6 2456.4,1282.1 2452.9,1279.6 C2449.5,1277.1 2445.8,1272.0 2445.2,1268.1 C2444.6,1264.1 2446.5,1259.2 2449.3,1255.9 C2452.1,1252.6 2457.3,1248.2 2461.9,1248.2 C2466.5,1248.1 2473.6,1252.9 2476.9,1255.8 C2480.2,1258.8 2481.8,1262.1 2481.9,1265.8Z" fill="#2c8fd9"/>
<path d="M2564.4,1273.9 C2564.1,1280.1 2561.3,1288.8 2557.6,1294.1 C2554.0,1299.3 2548.0,1303.4 2542.7,1305.5 C2537.4,1307.6 2531.4,1308.1 2525.7,1306.6 C2520.1,1305.1 2512.8,1301.1 2508.8,1296.3 C2504.8,1291.4 2502.4,1284.4 2501.9,1277.7 C2501.4,1270.9 2502.5,1261.1 2505.7,1255.8 C2508.9,1250.5 2514.6,1247.9 2521.0,1245.8 C2527.4,1243.7 2537.9,1241.4 2544.2,1243.2 C2550.6,1245.0 2555.9,1251.4 2559.3,1256.5 C2562.6,1261.6 2564.6,1267.6 2564.4,1273.9Z" fill="url(#gTan)" stroke="#120a08" stroke-width="2.4" stroke-linejoin="round"/>
<path d="M2553.9,1281.9 C2554.0,1287.0 2552.0,1292.2 2548.2,1295.2 C2544.4,1298.3 2536.2,1300.7 2531.2,1300.1 C2526.1,1299.5 2520.8,1295.6 2517.8,1291.6 C2514.8,1287.5 2512.9,1280.2 2512.9,1275.8 C2512.9,1271.5 2514.1,1268.4 2517.7,1265.6 C2521.4,1262.7 2529.8,1259.1 2534.8,1258.9 C2539.8,1258.7 2544.5,1260.5 2547.7,1264.4 C2550.9,1268.2 2553.9,1276.7 2553.9,1281.9Z" fill="#fbf6e6"/>
<path d="M2550.4,1281.4 C2550.5,1285.6 2548.9,1290.0 2545.8,1292.5 C2542.7,1295.0 2535.9,1297.1 2531.7,1296.5 C2527.5,1296.0 2523.2,1292.7 2520.6,1289.4 C2518.1,1286.0 2516.5,1280.0 2516.5,1276.4 C2516.5,1272.8 2517.5,1270.2 2520.5,1267.9 C2523.5,1265.5 2530.5,1262.7 2534.6,1262.5 C2538.8,1262.4 2542.6,1263.9 2545.2,1267.0 C2547.8,1270.1 2550.3,1277.1 2550.4,1281.4Z" fill="#2c8fd9"/>
<path d="M2646.1,1267.9 C2646.4,1275.1 2643.7,1284.1 2639.6,1290.1 C2635.4,1296.1 2629.1,1301.7 2621.2,1303.9 C2613.3,1306.1 2599.8,1305.6 2592.3,1303.5 C2584.7,1301.4 2579.9,1296.7 2576.1,1291.2 C2572.3,1285.6 2569.7,1277.3 2569.4,1270.4 C2569.1,1263.4 2570.4,1254.9 2574.3,1249.2 C2578.2,1243.5 2586.1,1238.7 2592.8,1236.1 C2599.6,1233.6 2607.4,1232.3 2615.0,1234.1 C2622.5,1235.8 2632.9,1240.9 2638.1,1246.5 C2643.3,1252.2 2645.9,1260.6 2646.1,1267.9Z" fill="url(#gTan)" stroke="#120a08" stroke-width="2.4" stroke-linejoin="round"/>
<path d="M2634.9,1271.1 C2634.5,1276.5 2628.4,1284.9 2624.2,1288.9 C2620.0,1293.0 2614.2,1295.6 2609.7,1295.2 C2605.2,1294.7 2600.2,1290.4 2597.1,1286.4 C2594.0,1282.3 2590.7,1275.9 2590.9,1270.9 C2591.1,1265.9 2594.3,1259.7 2598.1,1256.3 C2601.9,1252.9 2609.0,1250.7 2613.7,1250.7 C2618.5,1250.8 2623.4,1253.2 2626.9,1256.6 C2630.4,1260.0 2635.4,1265.7 2634.9,1271.1Z" fill="#fbf6e6"/>
<path d="M2631.3,1271.4 C2630.9,1275.9 2625.5,1282.7 2622.0,1286.1 C2618.4,1289.4 2613.8,1291.9 2610.1,1291.6 C2606.4,1291.2 2602.4,1287.4 2599.8,1284.0 C2597.2,1280.6 2594.4,1275.4 2594.5,1271.3 C2594.6,1267.1 2597.3,1261.9 2600.4,1259.1 C2603.6,1256.2 2609.5,1254.3 2613.5,1254.3 C2617.5,1254.3 2621.5,1256.4 2624.5,1259.3 C2627.4,1262.1 2631.8,1266.9 2631.3,1271.4Z" fill="#2c8fd9"/>
<path d="M2474.5,1335.6 C2474.1,1341.6 2470.9,1348.4 2467.5,1352.9 C2464.2,1357.4 2460.3,1361.0 2454.2,1362.5 C2448.1,1364.1 2437.0,1364.1 2430.8,1362.2 C2424.7,1360.3 2420.4,1356.0 2417.2,1351.2 C2413.9,1346.4 2411.6,1339.3 2411.4,1333.6 C2411.2,1327.8 2411.9,1321.7 2416.0,1316.5 C2420.1,1311.3 2430.2,1304.5 2436.0,1302.2 C2441.8,1299.8 2445.3,1300.0 2451.0,1302.4 C2456.7,1304.8 2466.1,1311.1 2470.0,1316.6 C2473.9,1322.1 2474.9,1329.5 2474.5,1335.6Z" fill="url(#gYelC)" stroke="#120a08" stroke-width="2.4" stroke-linejoin="round"/>
<circle cx="2442.6" cy="1335.0" r="17.9" fill="#ffffff"/>
<circle cx="2442.6" cy="1335.0" r="13.0" fill="#2b93d6"/>
<path d="M2547.3,1337.0 C2547.0,1342.6 2544.3,1352.5 2541.1,1357.5 C2537.9,1362.6 2533.9,1365.7 2528.0,1367.3 C2522.1,1369.0 2511.8,1369.0 2505.8,1367.3 C2499.9,1365.5 2495.6,1361.1 2492.4,1356.8 C2489.2,1352.6 2486.7,1348.0 2486.7,1342.0 C2486.8,1336.0 2489.0,1326.1 2492.7,1320.7 C2496.5,1315.3 2504.0,1311.4 2509.3,1309.6 C2514.7,1307.7 2519.2,1307.3 2524.8,1309.6 C2530.5,1312.0 2539.5,1319.1 2543.2,1323.7 C2547.0,1328.2 2547.7,1331.3 2547.3,1337.0Z" fill="url(#gYelC)" stroke="#120a08" stroke-width="2.4" stroke-linejoin="round"/>
<circle cx="2518.0" cy="1340.0" r="17.1" fill="#ffffff"/>
<circle cx="2518.0" cy="1340.0" r="12.4" fill="#2b93d6"/>
<path d="M2608.3,1338.8 C2608.3,1344.0 2607.4,1347.2 2604.2,1351.4 C2601.0,1355.7 2595.3,1362.1 2589.2,1364.3 C2583.1,1366.5 2573.9,1366.7 2567.7,1364.6 C2561.5,1362.6 2555.4,1357.1 2552.1,1351.9 C2548.8,1346.7 2547.4,1338.9 2547.7,1333.2 C2548.0,1327.5 2550.1,1322.0 2553.8,1317.6 C2557.4,1313.2 2563.9,1308.4 2569.7,1306.8 C2575.5,1305.1 2582.9,1305.3 2588.6,1307.5 C2594.3,1309.7 2600.6,1314.8 2603.9,1320.1 C2607.2,1325.3 2608.2,1333.6 2608.3,1338.8Z" fill="url(#gYelC)" stroke="#120a08" stroke-width="2.4" stroke-linejoin="round"/>
<circle cx="2578.0" cy="1336.0" r="17.1" fill="#ffffff"/>
<circle cx="2578.0" cy="1336.0" r="12.4" fill="#2b93d6"/>
<ellipse cx="2505" cy="1428" rx="165" ry="48" fill="#ffffff" filter="url(#blur6)" opacity="0.95"/>
<path d="M2388.9,1416.1 C2389.7,1418.0 2392.2,1424.0 2393.8,1427.3 C2395.4,1430.6 2397.9,1434.3 2398.7,1435.7" fill="none" stroke="#7f8b8b" stroke-width="1.2" opacity="0.35" stroke-linecap="round"/>
<path d="M2407.1,1413.3 C2406.4,1415.4 2403.1,1421.9 2402.9,1425.9 C2402.7,1429.9 2405.2,1435.2 2405.7,1437.1" fill="none" stroke="#7f8b8b" stroke-width="1.6" opacity="0.45" stroke-linecap="round"/>
<path d="M2424.5,1414.7 C2424.4,1416.6 2424.1,1421.9 2423.8,1425.9 C2423.6,1429.9 2423.3,1436.4 2423.1,1438.5" fill="none" stroke="#7f8b8b" stroke-width="1.6" opacity="0.5" stroke-linecap="round"/>
<path d="M2436.4,1416.1 C2436.5,1418.0 2436.9,1423.6 2437.1,1427.3 C2437.4,1431.0 2437.7,1436.6 2437.8,1438.5" fill="none" stroke="#7f8b8b" stroke-width="1.2" opacity="0.3" stroke-linecap="round"/>
<path d="M2463.0,1413.3 C2462.2,1415.4 2458.1,1421.7 2458.1,1425.9 C2458.1,1430.1 2462.2,1436.4 2463.0,1438.5" fill="none" stroke="#7f8b8b" stroke-width="1.4" opacity="0.4" stroke-linecap="round"/>
<path d="M2477.6,1414.7 C2478.2,1416.6 2481.4,1421.9 2481.1,1425.9 C2480.9,1429.9 2477.1,1436.4 2476.2,1438.5" fill="none" stroke="#7f8b8b" stroke-width="1.2" opacity="0.3" stroke-linecap="round"/>
<path d="M2495.1,1413.3 C2495.6,1415.2 2497.0,1420.8 2497.9,1424.5 C2498.8,1428.2 2500.2,1433.8 2500.7,1435.7" fill="none" stroke="#7f8b8b" stroke-width="2.4" opacity="0.5" stroke-linecap="round"/>
<path d="M2514.0,1417.5 C2513.8,1419.4 2513.4,1425.2 2513.0,1428.7 C2512.7,1432.2 2512.1,1436.8 2511.9,1438.5" fill="none" stroke="#7f8b8b" stroke-width="1.6" opacity="0.5" stroke-linecap="round"/>
<path d="M2534.2,1414.7 C2532.8,1416.6 2525.6,1421.9 2525.9,1425.9 C2526.1,1429.9 2532.4,1436.1 2535.6,1438.5 C2538.9,1440.8 2543.8,1439.6 2545.4,1439.9" fill="none" stroke="#7f8b8b" stroke-width="1.6" opacity="0.45" stroke-linecap="round"/>
<path d="M2548.2,1414.7 C2548.7,1415.9 2550.7,1419.6 2551.0,1421.7 C2551.4,1423.8 2550.4,1426.4 2550.3,1427.3" fill="none" stroke="#7f8b8b" stroke-width="1.4" opacity="0.4" stroke-linecap="round"/>
<path d="M2563.6,1420.3 C2563.7,1421.7 2563.9,1425.9 2564.0,1428.7 C2564.1,1431.5 2564.2,1435.7 2564.3,1437.1" fill="none" stroke="#7f8b8b" stroke-width="1.6" opacity="0.45" stroke-linecap="round"/>
<path d="M2576.2,1417.5 C2576.0,1419.4 2575.7,1425.2 2575.5,1428.7 C2575.2,1432.2 2574.9,1436.8 2574.8,1438.5" fill="none" stroke="#7f8b8b" stroke-width="1.6" opacity="0.5" stroke-linecap="round"/>
<path d="M2585.9,1425.9 C2586.2,1427.1 2587.5,1430.6 2587.6,1432.9 C2587.7,1435.2 2586.8,1438.7 2586.6,1439.9" fill="none" stroke="#7f8b8b" stroke-width="2.4" opacity="0.55" stroke-linecap="round"/>
<path d="M2608.3,1411.9 C2607.8,1414.3 2605.5,1421.7 2605.5,1425.9 C2605.5,1430.1 2607.8,1435.2 2608.3,1437.1" fill="none" stroke="#7f8b8b" stroke-width="1.6" opacity="0.5" stroke-linecap="round"/>
<path d="M2623.7,1413.3 C2623.9,1415.4 2625.8,1421.9 2625.1,1425.9 C2624.4,1429.9 2620.4,1435.2 2619.5,1437.1" fill="none" stroke="#7f8b8b" stroke-width="1.4" opacity="0.35" stroke-linecap="round"/>
<text x="2522.0" y="1515.2" font-size="61.5" text-anchor="middle" font-weight="normal" stroke="#050505" stroke-width="0.5" >progression</text>
</svg>
</body></html>
